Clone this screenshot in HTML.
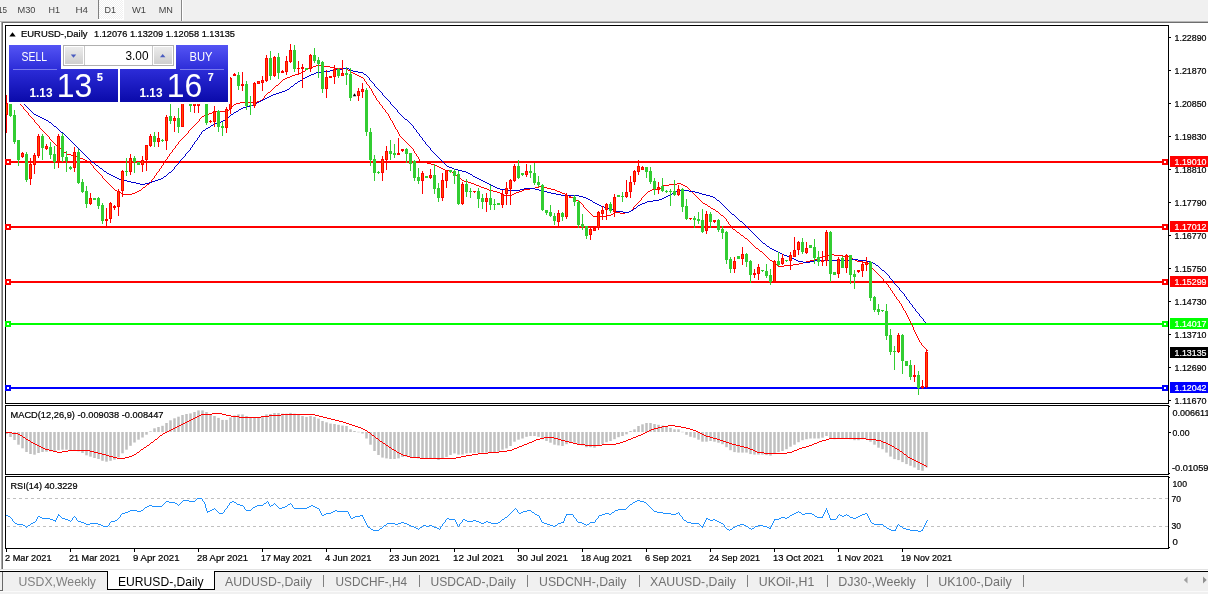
<!DOCTYPE html><html><head><meta charset="utf-8"><title>EURUSD-,Daily</title>
<style>html,body{margin:0;padding:0;background:#f0f0f0;overflow:hidden}svg{display:block}text{font-family:"Liberation Sans", sans-serif;stroke-width:0.22px;paint-order:stroke fill}</style></head><body>
<svg width="1208" height="594" viewBox="0 0 1208 594">
<defs><linearGradient id="gs" x1="0" y1="0" x2="0" y2="1"><stop offset="0" stop-color="#5454f4"/><stop offset="1" stop-color="#2c2cd8"/></linearGradient><linearGradient id="gp" x1="0" y1="0" x2="0" y2="1"><stop offset="0" stop-color="#2c2cd8"/><stop offset="1" stop-color="#0a0aaa"/></linearGradient><linearGradient id="gb" x1="0" y1="0" x2="0" y2="1"><stop offset="0" stop-color="#ececec"/><stop offset="1" stop-color="#cfcfcf"/></linearGradient><pattern id="dith" width="2" height="2" patternUnits="userSpaceOnUse"><rect width="2" height="2" fill="#f0f0f0"/><rect width="1" height="1" fill="#fff"/><rect x="1" y="1" width="1" height="1" fill="#fff"/></pattern></defs>
<g shape-rendering="crispEdges">
<rect x="0" y="0" width="1208" height="594" fill="#f0f0f0"/>
<rect x="99" y="0" width="24" height="19" fill="url(#dith)"/>
<rect x="98" y="0" width="1" height="19" fill="#808080"/>
<rect x="98" y="19" width="26" height="1" fill="#fff"/>
<rect x="123" y="0" width="1" height="19" fill="#fff"/>
<rect x="181" y="0" width="1" height="21" fill="#888"/>
<rect x="182" y="0" width="1" height="21" fill="#fff"/>
<rect x="0" y="21" width="1208" height="1" fill="#b8b8b8"/>
<rect x="0" y="22" width="1208" height="1" fill="#6e6e6e"/>
<rect x="0" y="22" width="1" height="547" fill="#fcfcfc"/>
<rect x="1" y="22" width="1" height="547" fill="#a8a8a8"/>
<rect x="2" y="22" width="1" height="547" fill="#6e6e6e"/>
<rect x="3" y="23" width="1205" height="546" fill="#fff"/>
<rect x="0" y="569" width="1208" height="1" fill="#e3e3e3"/>
<rect x="0" y="570" width="1208" height="1" fill="#fff"/>
<rect x="5" y="25" width="1164" height="1" fill="#000"/>
<rect x="5" y="403" width="1164" height="1" fill="#000"/>
<rect x="5" y="25" width="1" height="379" fill="#000"/>
<rect x="1168" y="25" width="1" height="379" fill="#000"/>
<rect x="5" y="405" width="1164" height="1" fill="#000"/>
<rect x="5" y="474" width="1164" height="1" fill="#000"/>
<rect x="5" y="405" width="1" height="70" fill="#000"/>
<rect x="1168" y="405" width="1" height="70" fill="#000"/>
<rect x="5" y="476" width="1164" height="1" fill="#000"/>
<rect x="5" y="548" width="1164" height="1" fill="#000"/>
<rect x="5" y="476" width="1" height="73" fill="#000"/>
<rect x="1168" y="476" width="1" height="73" fill="#000"/>
</g>
<defs><clipPath id="cm"><rect x="6" y="26" width="1162" height="377"/></clipPath><clipPath id="c2"><rect x="6" y="406" width="1162" height="68"/></clipPath><clipPath id="c3"><rect x="6" y="477" width="1162" height="71"/></clipPath></defs>
<g clip-path="url(#cm)">
<g shape-rendering="crispEdges">
<rect x="6" y="161" width="1162" height="2" fill="#ff0000"/>
<rect x="6" y="226" width="1162" height="2" fill="#ff0000"/>
<rect x="6" y="281" width="1162" height="2" fill="#ff0000"/>
<rect x="6" y="323" width="1162" height="2" fill="#00ff00"/>
<rect x="6" y="387" width="1162" height="2" fill="#0000ff"/>
</g>
<path d="M20 104h1v1h-1zM21 105h1v1h-1zM22 106h1v1h-1zM23 107h1v2h-1zM24 109h1v1h-1zM25 110h1v1h-1zM26 111h1v1h-1zM27 112h1v1h-1zM28 113h1v2h-1zM29 115h1v1h-1zM30 116h1v1h-1zM31 117h1v1h-1zM32 118h1v1h-1zM33 119h1v1h-1zM34 120h1v2h-1zM35 122h1v1h-1zM36 123h1v1h-1zM37 124h1v1h-1zM38 125h1v1h-1zM39 126h1v2h-1zM40 128h1v1h-1zM41 129h1v1h-1zM42 130h1v1h-1zM43 131h1v1h-1zM44 132h1v1h-1zM45 133h1v1h-1zM46 134h1v1h-1zM47 135h1v1h-1zM48 136h1v1h-1zM49 137h1v2h-1zM50 139h1v1h-1zM51 140h1v1h-1zM52 141h1v1h-1zM53 142h1v1h-1zM54 143h1v1h-1zM55 144h1v1h-1zM56 145h1v1h-1zM57 146h1v1h-1zM58 147h2v1h-2zM60 148h1v1h-1zM61 149h1v1h-1zM62 150h1v1h-1zM63 151h1v1h-1zM64 152h2v1h-2zM66 153h1v1h-1zM67 154h4v1h-4zM71 155h5v1h-5zM76 156h2v1h-2zM78 157h2v1h-2zM80 158h3v1h-3zM83 159h2v1h-2zM85 160h2v1h-2zM87 161h2v1h-2zM89 162h1v1h-1zM90 163h1v1h-1zM91 164h1v1h-1zM92 165h1v1h-1zM93 166h1v2h-1zM94 168h1v1h-1zM95 169h1v1h-1zM96 170h1v1h-1zM97 171h1v1h-1zM98 172h1v1h-1zM99 173h1v1h-1zM100 174h1v1h-1zM101 175h1v1h-1zM102 176h1v2h-1zM103 178h1v1h-1zM104 179h1v1h-1zM105 180h1v1h-1zM106 181h1v1h-1zM107 182h1v1h-1zM108 183h1v1h-1zM109 184h1v1h-1zM110 185h1v1h-1zM111 186h1v1h-1zM112 187h1v1h-1zM113 188h1v1h-1zM114 189h1v1h-1zM115 190h2v1h-2zM117 191h2v1h-2zM119 192h2v1h-2zM121 193h2v1h-2zM123 194h9v1h-9zM132 193h3v1h-3zM135 192h2v1h-2zM137 191h2v1h-2zM139 190h2v1h-2zM141 189h1v1h-1zM142 188h1v1h-1zM143 187h2v1h-2zM145 186h1v1h-1zM146 185h1v1h-1zM147 184h2v1h-2zM149 183h1v1h-1zM150 182h1v1h-1zM151 180h1v2h-1zM152 179h1v1h-1zM153 178h1v1h-1zM154 176h1v2h-1zM155 175h1v1h-1zM156 173h1v2h-1zM157 172h1v1h-1zM158 171h1v1h-1zM159 169h1v2h-1zM160 168h1v1h-1zM161 166h1v2h-1zM162 165h1v1h-1zM163 163h1v2h-1zM164 162h1v1h-1zM165 160h1v2h-1zM166 159h1v1h-1zM167 157h1v2h-1zM168 156h1v1h-1zM169 154h1v2h-1zM170 153h1v1h-1zM171 152h1v1h-1zM172 150h1v2h-1zM173 149h1v1h-1zM174 148h1v1h-1zM175 146h1v2h-1zM176 145h1v1h-1zM177 144h1v1h-1zM178 142h1v2h-1zM179 141h1v1h-1zM180 140h1v1h-1zM181 139h1v1h-1zM182 138h1v1h-1zM183 137h1v1h-1zM184 136h1v1h-1zM185 135h1v1h-1zM186 134h1v1h-1zM187 133h1v1h-1zM188 131h1v2h-1zM189 130h1v1h-1zM190 129h1v1h-1zM191 128h1v1h-1zM192 127h1v1h-1zM193 126h1v1h-1zM194 125h1v1h-1zM195 124h1v1h-1zM196 123h1v1h-1zM197 122h1v1h-1zM198 121h1v1h-1zM199 119h1v2h-1zM200 118h1v1h-1zM201 117h1v1h-1zM202 116h2v1h-2zM204 115h3v1h-3zM207 114h2v1h-2zM209 113h3v1h-3zM212 112h2v1h-2zM214 111h13v1h-13zM227 110h2v1h-2zM229 109h1v1h-1zM230 108h1v1h-1zM231 107h1v1h-1zM232 106h1v1h-1zM233 105h1v1h-1zM234 104h2v1h-2zM236 103h4v1h-4zM240 102h17v1h-17zM257 101h3v1h-3zM260 100h2v1h-2zM262 99h1v1h-1zM263 98h1v1h-1zM264 96h1v2h-1zM265 95h1v1h-1zM266 94h1v1h-1zM267 93h1v1h-1zM268 92h2v1h-2zM270 91h1v1h-1zM271 90h1v1h-1zM272 89h1v1h-1zM273 88h1v1h-1zM274 87h1v1h-1zM275 86h1v1h-1zM276 85h2v1h-2zM278 84h1v1h-1zM279 83h1v1h-1zM280 82h1v1h-1zM281 81h1v1h-1zM282 80h1v1h-1zM283 79h2v1h-2zM285 78h2v1h-2zM287 77h3v1h-3zM290 76h2v1h-2zM292 75h3v1h-3zM295 74h4v1h-4zM299 73h2v1h-2zM301 72h2v1h-2zM303 71h2v1h-2zM305 70h1v1h-1zM306 69h2v1h-2zM308 68h2v1h-2zM310 67h3v1h-3zM313 66h3v1h-3zM316 65h7v1h-7zM323 66h7v1h-7zM330 67h4v1h-4zM334 68h12v1h-12zM346 69h2v1h-2zM348 70h2v1h-2zM350 71h1v1h-1zM351 72h2v1h-2zM353 73h2v1h-2zM355 74h2v1h-2zM357 75h2v1h-2zM359 76h2v1h-2zM361 77h2v1h-2zM363 78h1v1h-1zM364 79h1v2h-1zM365 81h1v1h-1zM366 82h1v2h-1zM367 84h1v1h-1zM368 85h1v1h-1zM369 86h1v2h-1zM370 88h1v1h-1zM371 89h1v2h-1zM372 91h1v2h-1zM373 93h1v2h-1zM374 95h1v1h-1zM375 96h1v2h-1zM376 98h1v2h-1zM377 100h1v1h-1zM378 101h1v1h-1zM379 102h1v2h-1zM380 104h1v1h-1zM381 105h1v1h-1zM382 106h1v2h-1zM383 108h1v1h-1zM384 109h1v1h-1zM385 110h1v2h-1zM386 112h1v1h-1zM387 113h1v1h-1zM388 114h1v2h-1zM389 116h1v2h-1zM390 118h1v2h-1zM391 120h1v1h-1zM392 121h1v2h-1zM393 123h1v2h-1zM394 125h1v2h-1zM395 127h1v2h-1zM396 129h1v1h-1zM397 130h1v2h-1zM398 132h1v2h-1zM399 134h1v2h-1zM400 136h1v1h-1zM401 137h1v1h-1zM402 138h1v1h-1zM403 139h1v1h-1zM404 140h1v1h-1zM405 141h1v1h-1zM406 142h1v1h-1zM407 143h1v1h-1zM408 144h1v1h-1zM409 145h1v1h-1zM410 146h1v1h-1zM411 147h1v1h-1zM412 148h1v1h-1zM413 149h1v2h-1zM414 151h1v2h-1zM415 153h1v1h-1zM416 154h1v2h-1zM417 156h1v1h-1zM418 157h1v2h-1zM419 159h1v2h-1zM420 161h3v1h-3zM423 162h4v1h-4zM427 163h4v1h-4zM431 164h4v1h-4zM435 165h2v1h-2zM437 166h2v1h-2zM439 167h2v1h-2zM441 168h2v1h-2zM443 169h2v1h-2zM445 170h4v1h-4zM449 171h3v1h-3zM452 172h2v1h-2zM454 173h1v1h-1zM455 174h1v1h-1zM456 175h1v1h-1zM457 176h2v1h-2zM459 177h1v1h-1zM460 178h1v1h-1zM461 179h1v1h-1zM462 180h2v1h-2zM464 181h4v1h-4zM468 182h3v1h-3zM471 183h3v1h-3zM474 184h2v1h-2zM476 185h3v1h-3zM479 186h2v1h-2zM481 187h3v1h-3zM484 188h3v1h-3zM487 189h2v1h-2zM489 190h4v1h-4zM493 191h4v1h-4zM497 192h3v1h-3zM500 193h2v1h-2zM502 194h2v1h-2zM504 195h8v1h-8zM512 194h2v1h-2zM514 193h2v1h-2zM516 192h3v1h-3zM519 191h3v1h-3zM522 190h2v1h-2zM524 189h6v1h-6zM530 188h5v1h-5zM535 187h4v1h-4zM539 186h4v1h-4zM543 187h4v1h-4zM547 188h4v1h-4zM551 189h4v1h-4zM555 190h2v1h-2zM557 191h3v1h-3zM560 192h2v1h-2zM562 193h3v1h-3zM565 194h2v1h-2zM567 195h2v1h-2zM569 196h2v1h-2zM571 197h2v1h-2zM573 198h1v1h-1zM574 199h2v1h-2zM576 200h2v1h-2zM578 201h2v1h-2zM580 202h1v1h-1zM581 203h1v1h-1zM582 204h1v1h-1zM583 205h1v2h-1zM584 207h1v1h-1zM585 208h1v1h-1zM586 209h1v1h-1zM587 210h1v1h-1zM588 211h1v1h-1zM589 212h1v1h-1zM590 213h1v1h-1zM591 214h1v1h-1zM592 215h1v1h-1zM593 216h14v1h-14zM607 215h4v1h-4zM611 214h2v1h-2zM613 213h2v1h-2zM615 212h5v1h-5zM620 213h5v1h-5zM625 212h4v1h-4zM629 211h2v1h-2zM631 210h1v1h-1zM632 209h1v1h-1zM633 207h1v2h-1zM634 206h1v1h-1zM635 205h1v1h-1zM636 204h1v1h-1zM637 203h1v1h-1zM638 202h1v1h-1zM639 201h1v1h-1zM640 200h1v1h-1zM641 198h1v2h-1zM642 197h1v1h-1zM643 196h1v1h-1zM644 195h1v1h-1zM645 194h1v1h-1zM646 193h1v1h-1zM647 192h1v1h-1zM648 191h2v1h-2zM650 190h2v1h-2zM652 189h5v1h-5zM657 188h4v1h-4zM661 187h1v1h-1zM662 186h1v1h-1zM663 185h6v1h-6zM669 184h8v1h-8zM677 183h4v1h-4zM681 184h2v1h-2zM683 185h2v1h-2zM685 186h2v1h-2zM687 187h1v1h-1zM688 188h1v1h-1zM689 189h1v1h-1zM690 190h1v1h-1zM691 191h1v1h-1zM692 192h1v1h-1zM693 193h1v1h-1zM694 194h1v1h-1zM695 195h1v1h-1zM696 196h1v1h-1zM697 197h1v1h-1zM698 198h1v1h-1zM699 199h1v1h-1zM700 200h1v1h-1zM701 201h1v1h-1zM702 202h1v1h-1zM703 203h2v1h-2zM705 204h2v1h-2zM707 205h1v1h-1zM708 206h2v1h-2zM710 207h1v1h-1zM711 208h2v1h-2zM713 209h2v1h-2zM715 210h1v1h-1zM716 211h2v1h-2zM718 212h1v1h-1zM719 213h1v1h-1zM720 214h1v1h-1zM721 215h2v1h-2zM723 216h1v1h-1zM724 217h1v1h-1zM725 218h1v1h-1zM726 219h1v2h-1zM727 221h1v1h-1zM728 222h1v2h-1zM729 224h1v1h-1zM730 225h1v1h-1zM731 226h1v2h-1zM732 228h1v1h-1zM733 229h2v1h-2zM735 230h1v1h-1zM736 231h1v1h-1zM737 232h2v1h-2zM739 233h1v1h-1zM740 234h1v1h-1zM741 235h2v1h-2zM743 236h1v1h-1zM744 237h1v1h-1zM745 238h2v1h-2zM747 239h1v1h-1zM748 240h1v1h-1zM749 241h1v1h-1zM750 242h1v1h-1zM751 243h1v1h-1zM752 244h1v1h-1zM753 245h1v1h-1zM754 246h1v1h-1zM755 247h1v1h-1zM756 248h2v1h-2zM758 249h1v1h-1zM759 250h1v1h-1zM760 251h2v1h-2zM762 252h1v1h-1zM763 253h1v1h-1zM764 254h1v1h-1zM765 255h1v1h-1zM766 256h1v1h-1zM767 257h1v1h-1zM768 258h1v1h-1zM769 259h1v1h-1zM770 260h2v1h-2zM772 261h1v1h-1zM773 262h1v1h-1zM774 263h1v1h-1zM775 264h2v1h-2zM777 265h1v1h-1zM778 266h6v1h-6zM784 265h9v1h-9zM793 264h6v1h-6zM799 263h4v1h-4zM803 262h3v1h-3zM806 261h4v1h-4zM810 260h4v1h-4zM814 259h3v1h-3zM817 258h3v1h-3zM820 257h2v1h-2zM822 256h3v1h-3zM825 255h4v1h-4zM829 254h5v1h-5zM834 255h9v1h-9zM843 256h6v1h-6zM849 257h2v1h-2zM851 258h2v1h-2zM853 259h2v1h-2zM855 260h2v1h-2zM857 261h6v1h-6zM863 262h5v1h-5zM868 263h1v1h-1zM869 264h1v1h-1zM870 265h1v2h-1zM871 267h1v1h-1zM872 268h1v1h-1zM873 269h1v1h-1zM874 270h1v1h-1zM875 271h1v1h-1zM876 272h1v1h-1zM877 273h1v1h-1zM878 274h1v1h-1zM879 275h1v1h-1zM880 276h1v1h-1zM881 277h1v1h-1zM882 278h1v1h-1zM883 279h1v2h-1zM884 281h1v1h-1zM885 282h1v1h-1zM886 283h1v1h-1zM887 284h1v1h-1zM888 285h1v2h-1zM889 287h1v1h-1zM890 288h1v2h-1zM891 290h1v1h-1zM892 291h1v2h-1zM893 293h1v1h-1zM894 294h1v2h-1zM895 296h1v1h-1zM896 297h1v2h-1zM897 299h1v1h-1zM898 300h1v1h-1zM899 301h1v2h-1zM900 303h1v1h-1zM901 304h1v2h-1zM902 306h1v2h-1zM903 308h1v2h-1zM904 310h1v1h-1zM905 311h1v2h-1zM906 313h1v2h-1zM907 315h1v2h-1zM908 317h1v2h-1zM909 319h1v2h-1zM910 321h1v2h-1zM911 323h1v2h-1zM912 325h1v2h-1zM913 327h1v3h-1zM914 330h1v2h-1zM915 332h1v2h-1zM916 334h1v2h-1zM917 336h1v2h-1zM918 338h1v2h-1zM919 340h1v2h-1zM920 342h1v1h-1zM921 343h1v2h-1zM922 345h1v1h-1zM923 346h1v1h-1zM924 347h1v1h-1zM925 348h1v1h-1zM926 349h1v1h-1zM927 350h1v1h-1z" fill="#ff0000" shape-rendering="crispEdges"/>
<path d="M24 104h1v1h-1zM25 105h1v1h-1zM26 106h1v1h-1zM27 107h1v1h-1zM28 108h1v1h-1zM29 109h1v1h-1zM30 110h1v1h-1zM31 111h1v1h-1zM32 112h1v1h-1zM33 113h1v1h-1zM34 114h2v1h-2zM36 115h2v1h-2zM38 116h2v1h-2zM40 117h2v1h-2zM42 118h2v1h-2zM44 119h2v1h-2zM46 120h2v1h-2zM48 121h1v1h-1zM49 122h2v1h-2zM51 123h1v1h-1zM52 124h1v1h-1zM53 125h1v1h-1zM54 126h2v1h-2zM56 127h1v1h-1zM57 128h1v1h-1zM58 129h1v1h-1zM59 130h1v1h-1zM60 131h1v1h-1zM61 132h2v1h-2zM63 133h1v1h-1zM64 134h1v1h-1zM65 135h1v1h-1zM66 136h1v1h-1zM67 137h1v1h-1zM68 138h1v1h-1zM69 139h1v1h-1zM70 140h1v1h-1zM71 141h1v1h-1zM72 142h1v1h-1zM73 143h1v1h-1zM74 144h1v1h-1zM75 145h1v1h-1zM76 146h1v1h-1zM77 147h1v1h-1zM78 148h1v1h-1zM79 149h1v1h-1zM80 150h1v1h-1zM81 151h1v1h-1zM82 152h1v1h-1zM83 153h1v1h-1zM84 154h1v1h-1zM85 155h1v1h-1zM86 156h1v1h-1zM87 157h1v1h-1zM88 158h1v1h-1zM89 159h1v1h-1zM90 160h1v1h-1zM91 161h1v1h-1zM92 162h2v1h-2zM94 163h1v1h-1zM95 164h1v1h-1zM96 165h2v1h-2zM98 166h1v1h-1zM99 167h1v1h-1zM100 168h2v1h-2zM102 169h1v1h-1zM103 170h1v1h-1zM104 171h2v1h-2zM106 172h1v1h-1zM107 173h2v1h-2zM109 174h2v1h-2zM111 175h2v1h-2zM113 176h2v1h-2zM115 177h2v1h-2zM117 178h2v1h-2zM119 179h4v1h-4zM123 180h4v1h-4zM127 181h4v1h-4zM131 182h5v1h-5zM136 183h4v1h-4zM140 184h5v1h-5zM145 183h4v1h-4zM149 182h3v1h-3zM152 181h3v1h-3zM155 180h3v1h-3zM158 179h3v1h-3zM161 178h2v1h-2zM163 177h1v1h-1zM164 176h2v1h-2zM166 175h1v1h-1zM167 174h1v1h-1zM168 173h1v1h-1zM169 172h2v1h-2zM171 171h1v1h-1zM172 170h1v1h-1zM173 169h1v1h-1zM174 167h1v2h-1zM175 166h1v1h-1zM176 165h1v1h-1zM177 164h1v1h-1zM178 163h1v1h-1zM179 161h1v2h-1zM180 160h1v1h-1zM181 159h1v1h-1zM182 158h1v1h-1zM183 157h1v1h-1zM184 156h1v1h-1zM185 154h1v2h-1zM186 153h1v1h-1zM187 152h1v1h-1zM188 151h1v1h-1zM189 150h1v1h-1zM190 148h1v2h-1zM191 147h1v1h-1zM192 145h1v2h-1zM193 144h1v1h-1zM194 142h1v2h-1zM195 141h1v1h-1zM196 140h1v1h-1zM197 138h1v2h-1zM198 137h1v1h-1zM199 135h1v2h-1zM200 134h1v1h-1zM201 132h1v2h-1zM202 131h1v1h-1zM203 130h2v1h-2zM205 129h1v1h-1zM206 128h2v1h-2zM208 127h2v1h-2zM210 126h1v1h-1zM211 125h2v1h-2zM213 124h2v1h-2zM215 123h3v1h-3zM218 122h3v1h-3zM221 121h2v1h-2zM223 120h2v1h-2zM225 119h1v1h-1zM226 118h1v1h-1zM227 117h2v1h-2zM229 116h1v1h-1zM230 115h1v1h-1zM231 114h2v1h-2zM233 113h1v1h-1zM234 112h2v1h-2zM236 111h2v1h-2zM238 110h1v1h-1zM239 109h2v1h-2zM241 108h2v1h-2zM243 107h4v1h-4zM247 106h3v1h-3zM250 105h3v1h-3zM253 104h2v1h-2zM255 103h2v1h-2zM257 102h2v1h-2zM259 101h2v1h-2zM261 100h2v1h-2zM263 99h2v1h-2zM265 98h2v1h-2zM267 97h2v1h-2zM269 96h2v1h-2zM271 95h2v1h-2zM273 94h3v1h-3zM276 93h3v1h-3zM279 92h3v1h-3zM282 91h3v1h-3zM285 90h2v1h-2zM287 89h2v1h-2zM289 88h1v1h-1zM290 87h1v1h-1zM291 86h2v1h-2zM293 85h1v1h-1zM294 84h1v1h-1zM295 83h2v1h-2zM297 82h1v1h-1zM298 81h2v1h-2zM300 80h2v1h-2zM302 79h1v1h-1zM303 78h2v1h-2zM305 77h2v1h-2zM307 76h2v1h-2zM309 75h2v1h-2zM311 74h3v1h-3zM314 73h2v1h-2zM316 72h7v1h-7zM323 71h7v1h-7zM330 70h5v1h-5zM335 69h8v1h-8zM343 68h6v1h-6zM349 69h2v1h-2zM351 70h2v1h-2zM353 71h5v1h-5zM358 72h5v1h-5zM363 73h1v1h-1zM364 74h2v1h-2zM366 75h1v1h-1zM367 76h1v1h-1zM368 77h1v1h-1zM369 78h1v2h-1zM370 80h1v1h-1zM371 81h1v1h-1zM372 82h1v1h-1zM373 83h1v1h-1zM374 84h1v2h-1zM375 86h1v1h-1zM376 87h1v1h-1zM377 88h1v1h-1zM378 89h1v1h-1zM379 90h1v1h-1zM380 91h1v1h-1zM381 92h1v1h-1zM382 93h1v2h-1zM383 95h1v1h-1zM384 96h1v1h-1zM385 97h1v1h-1zM386 98h1v1h-1zM387 99h1v1h-1zM388 100h1v1h-1zM389 101h1v1h-1zM390 102h1v2h-1zM391 104h1v1h-1zM392 105h1v1h-1zM393 106h1v1h-1zM394 107h1v1h-1zM395 108h1v1h-1zM396 109h1v1h-1zM397 110h1v2h-1zM398 112h1v1h-1zM399 113h1v1h-1zM400 114h1v1h-1zM401 115h1v1h-1zM402 116h1v1h-1zM403 117h1v1h-1zM404 118h1v1h-1zM405 119h2v1h-2zM407 120h1v1h-1zM408 121h1v1h-1zM409 122h1v1h-1zM410 123h1v1h-1zM411 124h1v1h-1zM412 125h1v1h-1zM413 126h1v2h-1zM414 128h1v1h-1zM415 129h1v1h-1zM416 130h1v2h-1zM417 132h1v1h-1zM418 133h1v1h-1zM419 134h1v2h-1zM420 136h1v1h-1zM421 137h1v1h-1zM422 138h1v2h-1zM423 140h1v1h-1zM424 141h1v1h-1zM425 142h1v2h-1zM426 144h1v1h-1zM427 145h1v1h-1zM428 146h1v1h-1zM429 147h1v1h-1zM430 148h1v2h-1zM431 150h1v1h-1zM432 151h1v1h-1zM433 152h1v1h-1zM434 153h1v1h-1zM435 154h1v1h-1zM436 155h1v1h-1zM437 156h1v1h-1zM438 157h1v1h-1zM439 158h1v1h-1zM440 159h1v1h-1zM441 160h1v1h-1zM442 161h1v1h-1zM443 162h1v1h-1zM444 163h1v1h-1zM445 164h1v1h-1zM446 165h1v1h-1zM447 166h2v1h-2zM449 167h3v1h-3zM452 168h2v1h-2zM454 169h4v1h-4zM458 170h4v1h-4zM462 171h4v1h-4zM466 172h2v1h-2zM468 173h2v1h-2zM470 174h2v1h-2zM472 175h1v1h-1zM473 176h2v1h-2zM475 177h2v1h-2zM477 178h2v1h-2zM479 179h2v1h-2zM481 180h2v1h-2zM483 181h2v1h-2zM485 182h2v1h-2zM487 183h2v1h-2zM489 184h2v1h-2zM491 185h2v1h-2zM493 186h2v1h-2zM495 187h2v1h-2zM497 188h3v1h-3zM500 189h5v1h-5zM505 190h15v1h-15zM520 189h4v1h-4zM524 188h11v1h-11zM535 189h4v1h-4zM539 190h4v1h-4zM543 191h4v1h-4zM547 192h4v1h-4zM551 193h5v1h-5zM556 194h5v1h-5zM561 195h18v1h-18zM579 196h4v1h-4zM583 197h3v1h-3zM586 198h2v1h-2zM588 199h2v1h-2zM590 200h2v1h-2zM592 201h1v1h-1zM593 202h2v1h-2zM595 203h2v1h-2zM597 204h2v1h-2zM599 205h2v1h-2zM601 206h3v1h-3zM604 207h2v1h-2zM606 208h3v1h-3zM609 209h4v1h-4zM613 210h3v1h-3zM616 211h7v1h-7zM623 212h6v1h-6zM629 211h2v1h-2zM631 210h2v1h-2zM633 209h1v1h-1zM634 208h2v1h-2zM636 207h1v1h-1zM637 206h1v1h-1zM638 205h2v1h-2zM640 204h2v1h-2zM642 203h3v1h-3zM645 202h2v1h-2zM647 201h6v1h-6zM653 200h6v1h-6zM659 199h3v1h-3zM662 198h2v1h-2zM664 197h2v1h-2zM666 196h2v1h-2zM668 195h2v1h-2zM670 194h2v1h-2zM672 193h1v1h-1zM673 192h2v1h-2zM675 191h5v1h-5zM680 190h9v1h-9zM689 191h6v1h-6zM695 192h4v1h-4zM699 193h3v1h-3zM702 194h4v1h-4zM706 195h4v1h-4zM710 196h3v1h-3zM713 197h2v1h-2zM715 198h1v1h-1zM716 199h1v1h-1zM717 200h2v1h-2zM719 201h1v1h-1zM720 202h1v1h-1zM721 203h1v1h-1zM722 204h1v1h-1zM723 205h1v1h-1zM724 206h1v1h-1zM725 207h1v1h-1zM726 208h1v1h-1zM727 209h1v1h-1zM728 210h1v1h-1zM729 211h1v1h-1zM730 212h1v1h-1zM731 213h1v1h-1zM732 214h2v1h-2zM734 215h1v1h-1zM735 216h1v1h-1zM736 217h1v1h-1zM737 218h1v1h-1zM738 219h1v1h-1zM739 220h1v1h-1zM740 221h2v1h-2zM742 222h1v1h-1zM743 223h1v1h-1zM744 224h1v1h-1zM745 225h1v1h-1zM746 226h1v1h-1zM747 227h1v1h-1zM748 228h1v1h-1zM749 229h1v1h-1zM750 230h1v1h-1zM751 231h1v1h-1zM752 232h1v1h-1zM753 233h1v1h-1zM754 234h1v1h-1zM755 235h1v1h-1zM756 236h1v1h-1zM757 237h1v1h-1zM758 238h1v1h-1zM759 239h1v1h-1zM760 240h1v1h-1zM761 241h1v1h-1zM762 242h1v1h-1zM763 243h2v1h-2zM765 244h1v1h-1zM766 245h1v1h-1zM767 246h2v1h-2zM769 247h1v1h-1zM770 248h2v1h-2zM772 249h2v1h-2zM774 250h2v1h-2zM776 251h2v1h-2zM778 252h2v1h-2zM780 253h2v1h-2zM782 254h2v1h-2zM784 255h3v1h-3zM787 256h2v1h-2zM789 257h3v1h-3zM792 258h2v1h-2zM794 259h2v1h-2zM796 260h2v1h-2zM798 261h5v1h-5zM803 262h7v1h-7zM810 261h4v1h-4zM814 260h35v1h-35zM849 259h9v1h-9zM858 260h9v1h-9zM867 261h4v1h-4zM871 262h2v1h-2zM873 263h2v1h-2zM875 264h1v1h-1zM876 265h2v1h-2zM878 266h1v1h-1zM879 267h1v1h-1zM880 268h1v1h-1zM881 269h1v1h-1zM882 270h2v1h-2zM884 271h1v1h-1zM885 272h1v1h-1zM886 273h1v1h-1zM887 274h1v1h-1zM888 275h1v1h-1zM889 276h1v2h-1zM890 278h1v1h-1zM891 279h1v1h-1zM892 280h1v1h-1zM893 281h1v2h-1zM894 283h1v1h-1zM895 284h1v1h-1zM896 285h1v1h-1zM897 286h1v1h-1zM898 287h1v1h-1zM899 288h1v2h-1zM900 290h1v1h-1zM901 291h1v1h-1zM902 292h1v1h-1zM903 293h1v1h-1zM904 294h1v2h-1zM905 296h1v1h-1zM906 297h1v2h-1zM907 299h1v1h-1zM908 300h1v1h-1zM909 301h1v2h-1zM910 303h1v1h-1zM911 304h1v1h-1zM912 305h1v2h-1zM913 307h1v1h-1zM914 308h1v1h-1zM915 309h1v2h-1zM916 311h1v1h-1zM917 312h1v1h-1zM918 313h1v1h-1zM919 314h1v2h-1zM920 316h1v1h-1zM921 317h1v1h-1zM922 318h1v1h-1zM923 319h1v2h-1zM924 321h1v1h-1zM925 322h1v1h-1z" fill="#0000cd" shape-rendering="crispEdges"/>
<g shape-rendering="crispEdges">
<rect x="6" y="95" width="1" height="38" fill="#ff0000"/>
<rect x="5" y="103" width="3" height="12" fill="#ff0000"/>
<rect x="6" y="104" width="1" height="10" fill="#ff4a00"/>
<rect x="10" y="100" width="1" height="17" fill="#32cd32"/>
<rect x="9" y="100" width="3" height="16" fill="#32cd32"/>
<rect x="14" y="110" width="1" height="34" fill="#32cd32"/>
<rect x="13" y="115" width="3" height="27" fill="#32cd32"/>
<rect x="18" y="140" width="1" height="26" fill="#32cd32"/>
<rect x="17" y="140" width="3" height="20" fill="#32cd32"/>
<rect x="22" y="152" width="1" height="6" fill="#ff0000"/>
<rect x="21" y="153" width="3" height="4" fill="#ff0000"/>
<rect x="22" y="154" width="1" height="2" fill="#ff4a00"/>
<rect x="26" y="152" width="1" height="30" fill="#32cd32"/>
<rect x="25" y="154" width="3" height="26" fill="#32cd32"/>
<rect x="30" y="158" width="1" height="27" fill="#ff0000"/>
<rect x="29" y="164" width="3" height="15" fill="#ff0000"/>
<rect x="30" y="165" width="1" height="13" fill="#ff4a00"/>
<rect x="34" y="153" width="1" height="21" fill="#ff0000"/>
<rect x="33" y="155" width="3" height="10" fill="#ff0000"/>
<rect x="34" y="156" width="1" height="8" fill="#ff4a00"/>
<rect x="38" y="134" width="1" height="24" fill="#ff0000"/>
<rect x="37" y="136" width="3" height="20" fill="#ff0000"/>
<rect x="38" y="137" width="1" height="18" fill="#ff4a00"/>
<rect x="42" y="134" width="1" height="26" fill="#32cd32"/>
<rect x="41" y="136" width="3" height="12" fill="#32cd32"/>
<rect x="46" y="144" width="1" height="6" fill="#ff0000"/>
<rect x="45" y="146" width="3" height="3" fill="#ff0000"/>
<rect x="46" y="147" width="1" height="1" fill="#ff4a00"/>
<rect x="50" y="142" width="1" height="17" fill="#32cd32"/>
<rect x="49" y="147" width="3" height="8" fill="#32cd32"/>
<rect x="54" y="146" width="1" height="23" fill="#32cd32"/>
<rect x="53" y="154" width="3" height="8" fill="#32cd32"/>
<rect x="58" y="134" width="1" height="34" fill="#ff0000"/>
<rect x="57" y="136" width="3" height="26" fill="#ff0000"/>
<rect x="58" y="137" width="1" height="24" fill="#ff4a00"/>
<rect x="62" y="133" width="1" height="29" fill="#32cd32"/>
<rect x="61" y="136" width="3" height="21" fill="#32cd32"/>
<rect x="66" y="151" width="1" height="21" fill="#32cd32"/>
<rect x="65" y="157" width="3" height="4" fill="#32cd32"/>
<rect x="70" y="166" width="1" height="4" fill="#32cd32"/>
<rect x="69" y="167" width="3" height="2" fill="#32cd32"/>
<rect x="74" y="147" width="1" height="25" fill="#ff0000"/>
<rect x="73" y="152" width="3" height="16" fill="#ff0000"/>
<rect x="74" y="153" width="1" height="14" fill="#ff4a00"/>
<rect x="78" y="149" width="1" height="35" fill="#32cd32"/>
<rect x="77" y="152" width="3" height="31" fill="#32cd32"/>
<rect x="82" y="179" width="1" height="14" fill="#32cd32"/>
<rect x="81" y="182" width="3" height="10" fill="#32cd32"/>
<rect x="86" y="186" width="1" height="22" fill="#32cd32"/>
<rect x="85" y="191" width="3" height="13" fill="#32cd32"/>
<rect x="90" y="193" width="1" height="12" fill="#ff0000"/>
<rect x="89" y="198" width="3" height="6" fill="#ff0000"/>
<rect x="90" y="199" width="1" height="4" fill="#ff4a00"/>
<rect x="94" y="198" width="1" height="2" fill="#32cd32"/>
<rect x="93" y="198" width="3" height="2" fill="#32cd32"/>
<rect x="98" y="197" width="1" height="12" fill="#32cd32"/>
<rect x="97" y="198" width="3" height="8" fill="#32cd32"/>
<rect x="102" y="203" width="1" height="21" fill="#32cd32"/>
<rect x="101" y="205" width="3" height="16" fill="#32cd32"/>
<rect x="106" y="208" width="1" height="19" fill="#ff0000"/>
<rect x="105" y="219" width="3" height="2" fill="#ff0000"/>
<rect x="110" y="202" width="1" height="21" fill="#ff0000"/>
<rect x="109" y="203" width="3" height="16" fill="#ff0000"/>
<rect x="110" y="204" width="1" height="14" fill="#ff4a00"/>
<rect x="114" y="205" width="1" height="5" fill="#ff0000"/>
<rect x="113" y="206" width="3" height="2" fill="#ff0000"/>
<rect x="118" y="189" width="1" height="27" fill="#ff0000"/>
<rect x="117" y="191" width="3" height="16" fill="#ff0000"/>
<rect x="118" y="192" width="1" height="14" fill="#ff4a00"/>
<rect x="122" y="170" width="1" height="27" fill="#ff0000"/>
<rect x="121" y="171" width="3" height="20" fill="#ff0000"/>
<rect x="122" y="172" width="1" height="18" fill="#ff4a00"/>
<rect x="126" y="158" width="1" height="18" fill="#32cd32"/>
<rect x="125" y="171" width="3" height="1" fill="#32cd32"/>
<rect x="130" y="154" width="1" height="21" fill="#ff0000"/>
<rect x="129" y="158" width="3" height="14" fill="#ff0000"/>
<rect x="130" y="159" width="1" height="12" fill="#ff4a00"/>
<rect x="134" y="156" width="1" height="17" fill="#32cd32"/>
<rect x="133" y="158" width="3" height="4" fill="#32cd32"/>
<rect x="138" y="162" width="1" height="3" fill="#32cd32"/>
<rect x="137" y="162" width="3" height="3" fill="#32cd32"/>
<rect x="142" y="156" width="1" height="16" fill="#ff0000"/>
<rect x="141" y="160" width="3" height="5" fill="#ff0000"/>
<rect x="142" y="161" width="1" height="3" fill="#ff4a00"/>
<rect x="146" y="145" width="1" height="26" fill="#ff0000"/>
<rect x="145" y="145" width="3" height="15" fill="#ff0000"/>
<rect x="146" y="146" width="1" height="13" fill="#ff4a00"/>
<rect x="150" y="134" width="1" height="13" fill="#ff0000"/>
<rect x="149" y="136" width="3" height="10" fill="#ff0000"/>
<rect x="150" y="137" width="1" height="8" fill="#ff4a00"/>
<rect x="154" y="132" width="1" height="15" fill="#32cd32"/>
<rect x="153" y="136" width="3" height="6" fill="#32cd32"/>
<rect x="158" y="132" width="1" height="15" fill="#ff0000"/>
<rect x="157" y="138" width="3" height="4" fill="#ff0000"/>
<rect x="158" y="139" width="1" height="2" fill="#ff4a00"/>
<rect x="162" y="139" width="1" height="3" fill="#32cd32"/>
<rect x="161" y="140" width="3" height="1" fill="#32cd32"/>
<rect x="166" y="115" width="1" height="35" fill="#ff0000"/>
<rect x="165" y="117" width="3" height="24" fill="#ff0000"/>
<rect x="166" y="118" width="1" height="22" fill="#ff4a00"/>
<rect x="170" y="104" width="1" height="20" fill="#32cd32"/>
<rect x="169" y="116" width="3" height="5" fill="#32cd32"/>
<rect x="174" y="116" width="1" height="16" fill="#ff0000"/>
<rect x="173" y="118" width="3" height="3" fill="#ff0000"/>
<rect x="174" y="119" width="1" height="1" fill="#ff4a00"/>
<rect x="178" y="108" width="1" height="25" fill="#32cd32"/>
<rect x="177" y="118" width="3" height="9" fill="#32cd32"/>
<rect x="182" y="100" width="1" height="27" fill="#ff0000"/>
<rect x="181" y="100" width="3" height="27" fill="#ff0000"/>
<rect x="182" y="101" width="1" height="25" fill="#ff4a00"/>
<rect x="186" y="100" width="1" height="1" fill="#ff0000"/>
<rect x="185" y="100" width="3" height="1" fill="#ff0000"/>
<rect x="190" y="100" width="1" height="12" fill="#32cd32"/>
<rect x="189" y="100" width="3" height="6" fill="#32cd32"/>
<rect x="194" y="100" width="1" height="13" fill="#ff0000"/>
<rect x="193" y="100" width="3" height="6" fill="#ff0000"/>
<rect x="194" y="101" width="1" height="4" fill="#ff4a00"/>
<rect x="198" y="100" width="1" height="13" fill="#ff0000"/>
<rect x="197" y="100" width="3" height="6" fill="#ff0000"/>
<rect x="198" y="101" width="1" height="4" fill="#ff4a00"/>
<rect x="202" y="100" width="1" height="1" fill="#ff0000"/>
<rect x="201" y="100" width="3" height="1" fill="#ff0000"/>
<rect x="206" y="100" width="1" height="25" fill="#32cd32"/>
<rect x="205" y="100" width="3" height="23" fill="#32cd32"/>
<rect x="210" y="120" width="1" height="3" fill="#ff0000"/>
<rect x="209" y="121" width="3" height="1" fill="#ff0000"/>
<rect x="214" y="106" width="1" height="21" fill="#ff0000"/>
<rect x="213" y="111" width="3" height="11" fill="#ff0000"/>
<rect x="214" y="112" width="1" height="9" fill="#ff4a00"/>
<rect x="218" y="110" width="1" height="22" fill="#32cd32"/>
<rect x="217" y="111" width="3" height="16" fill="#32cd32"/>
<rect x="222" y="122" width="1" height="14" fill="#32cd32"/>
<rect x="221" y="126" width="3" height="2" fill="#32cd32"/>
<rect x="226" y="107" width="1" height="26" fill="#ff0000"/>
<rect x="225" y="109" width="3" height="19" fill="#ff0000"/>
<rect x="226" y="110" width="1" height="17" fill="#ff4a00"/>
<rect x="230" y="77" width="1" height="37" fill="#ff0000"/>
<rect x="229" y="78" width="3" height="31" fill="#ff0000"/>
<rect x="230" y="79" width="1" height="29" fill="#ff4a00"/>
<rect x="234" y="73" width="1" height="3" fill="#ff0000"/>
<rect x="233" y="74" width="3" height="2" fill="#ff0000"/>
<rect x="238" y="72" width="1" height="18" fill="#32cd32"/>
<rect x="237" y="75" width="3" height="11" fill="#32cd32"/>
<rect x="242" y="72" width="1" height="19" fill="#ff0000"/>
<rect x="241" y="84" width="3" height="2" fill="#ff0000"/>
<rect x="246" y="81" width="1" height="29" fill="#32cd32"/>
<rect x="245" y="84" width="3" height="22" fill="#32cd32"/>
<rect x="250" y="96" width="1" height="19" fill="#32cd32"/>
<rect x="249" y="105" width="3" height="1" fill="#32cd32"/>
<rect x="254" y="82" width="1" height="26" fill="#ff0000"/>
<rect x="253" y="83" width="3" height="23" fill="#ff0000"/>
<rect x="254" y="84" width="1" height="21" fill="#ff4a00"/>
<rect x="258" y="81" width="1" height="3" fill="#ff0000"/>
<rect x="257" y="81" width="3" height="3" fill="#ff0000"/>
<rect x="258" y="82" width="1" height="1" fill="#ff4a00"/>
<rect x="262" y="76" width="1" height="15" fill="#ff0000"/>
<rect x="261" y="80" width="3" height="3" fill="#ff0000"/>
<rect x="262" y="81" width="1" height="1" fill="#ff4a00"/>
<rect x="266" y="55" width="1" height="27" fill="#ff0000"/>
<rect x="265" y="58" width="3" height="23" fill="#ff0000"/>
<rect x="266" y="59" width="1" height="21" fill="#ff4a00"/>
<rect x="270" y="51" width="1" height="29" fill="#32cd32"/>
<rect x="269" y="58" width="3" height="18" fill="#32cd32"/>
<rect x="274" y="56" width="1" height="21" fill="#ff0000"/>
<rect x="273" y="57" width="3" height="19" fill="#ff0000"/>
<rect x="274" y="58" width="1" height="17" fill="#ff4a00"/>
<rect x="278" y="53" width="1" height="26" fill="#32cd32"/>
<rect x="277" y="57" width="3" height="16" fill="#32cd32"/>
<rect x="282" y="70" width="1" height="3" fill="#ff0000"/>
<rect x="281" y="71" width="3" height="2" fill="#ff0000"/>
<rect x="286" y="56" width="1" height="19" fill="#ff0000"/>
<rect x="285" y="61" width="3" height="11" fill="#ff0000"/>
<rect x="286" y="62" width="1" height="9" fill="#ff4a00"/>
<rect x="290" y="44" width="1" height="19" fill="#ff0000"/>
<rect x="289" y="50" width="3" height="12" fill="#ff0000"/>
<rect x="290" y="51" width="1" height="10" fill="#ff4a00"/>
<rect x="294" y="45" width="1" height="27" fill="#32cd32"/>
<rect x="293" y="50" width="3" height="19" fill="#32cd32"/>
<rect x="298" y="61" width="1" height="13" fill="#ff0000"/>
<rect x="297" y="68" width="3" height="1" fill="#ff0000"/>
<rect x="302" y="64" width="1" height="24" fill="#ff0000"/>
<rect x="301" y="67" width="3" height="2" fill="#ff0000"/>
<rect x="306" y="68" width="1" height="2" fill="#32cd32"/>
<rect x="305" y="68" width="3" height="2" fill="#32cd32"/>
<rect x="310" y="54" width="1" height="18" fill="#ff0000"/>
<rect x="309" y="55" width="3" height="14" fill="#ff0000"/>
<rect x="310" y="56" width="1" height="12" fill="#ff4a00"/>
<rect x="314" y="48" width="1" height="15" fill="#32cd32"/>
<rect x="313" y="55" width="3" height="6" fill="#32cd32"/>
<rect x="318" y="57" width="1" height="21" fill="#32cd32"/>
<rect x="317" y="60" width="3" height="4" fill="#32cd32"/>
<rect x="322" y="61" width="1" height="32" fill="#32cd32"/>
<rect x="321" y="62" width="3" height="27" fill="#32cd32"/>
<rect x="326" y="70" width="1" height="28" fill="#ff0000"/>
<rect x="325" y="77" width="3" height="12" fill="#ff0000"/>
<rect x="326" y="78" width="1" height="10" fill="#ff4a00"/>
<rect x="330" y="76" width="1" height="2" fill="#ff0000"/>
<rect x="329" y="76" width="3" height="2" fill="#ff0000"/>
<rect x="334" y="65" width="1" height="19" fill="#ff0000"/>
<rect x="333" y="69" width="3" height="8" fill="#ff0000"/>
<rect x="334" y="70" width="1" height="6" fill="#ff4a00"/>
<rect x="338" y="68" width="1" height="10" fill="#32cd32"/>
<rect x="337" y="69" width="3" height="7" fill="#32cd32"/>
<rect x="342" y="60" width="1" height="16" fill="#ff0000"/>
<rect x="341" y="73" width="3" height="3" fill="#ff0000"/>
<rect x="342" y="74" width="1" height="1" fill="#ff4a00"/>
<rect x="346" y="67" width="1" height="18" fill="#32cd32"/>
<rect x="345" y="73" width="3" height="2" fill="#32cd32"/>
<rect x="350" y="68" width="1" height="33" fill="#32cd32"/>
<rect x="349" y="74" width="3" height="24" fill="#32cd32"/>
<rect x="358" y="88" width="1" height="13" fill="#ff0000"/>
<rect x="357" y="91" width="3" height="5" fill="#ff0000"/>
<rect x="358" y="92" width="1" height="3" fill="#ff4a00"/>
<rect x="362" y="83" width="1" height="15" fill="#ff0000"/>
<rect x="361" y="89" width="3" height="3" fill="#ff0000"/>
<rect x="362" y="90" width="1" height="1" fill="#ff4a00"/>
<rect x="366" y="88" width="1" height="48" fill="#32cd32"/>
<rect x="365" y="90" width="3" height="42" fill="#32cd32"/>
<rect x="370" y="128" width="1" height="38" fill="#32cd32"/>
<rect x="369" y="132" width="3" height="28" fill="#32cd32"/>
<rect x="374" y="155" width="1" height="26" fill="#32cd32"/>
<rect x="373" y="159" width="3" height="14" fill="#32cd32"/>
<rect x="378" y="171" width="1" height="3" fill="#32cd32"/>
<rect x="377" y="172" width="3" height="1" fill="#32cd32"/>
<rect x="382" y="156" width="1" height="25" fill="#ff0000"/>
<rect x="381" y="159" width="3" height="14" fill="#ff0000"/>
<rect x="382" y="160" width="1" height="12" fill="#ff4a00"/>
<rect x="386" y="146" width="1" height="24" fill="#ff0000"/>
<rect x="385" y="151" width="3" height="9" fill="#ff0000"/>
<rect x="386" y="152" width="1" height="7" fill="#ff4a00"/>
<rect x="390" y="140" width="1" height="20" fill="#32cd32"/>
<rect x="389" y="151" width="3" height="3" fill="#32cd32"/>
<rect x="394" y="144" width="1" height="14" fill="#32cd32"/>
<rect x="393" y="153" width="3" height="2" fill="#32cd32"/>
<rect x="398" y="138" width="1" height="17" fill="#ff0000"/>
<rect x="397" y="153" width="3" height="2" fill="#ff0000"/>
<rect x="402" y="149" width="1" height="3" fill="#ff0000"/>
<rect x="401" y="149" width="3" height="2" fill="#ff0000"/>
<rect x="406" y="148" width="1" height="15" fill="#32cd32"/>
<rect x="405" y="149" width="3" height="5" fill="#32cd32"/>
<rect x="410" y="153" width="1" height="18" fill="#32cd32"/>
<rect x="409" y="153" width="3" height="11" fill="#32cd32"/>
<rect x="414" y="160" width="1" height="21" fill="#32cd32"/>
<rect x="413" y="161" width="3" height="17" fill="#32cd32"/>
<rect x="418" y="168" width="1" height="16" fill="#32cd32"/>
<rect x="417" y="177" width="3" height="4" fill="#32cd32"/>
<rect x="422" y="171" width="1" height="23" fill="#ff0000"/>
<rect x="421" y="173" width="3" height="8" fill="#ff0000"/>
<rect x="422" y="174" width="1" height="6" fill="#ff4a00"/>
<rect x="426" y="176" width="1" height="2" fill="#32cd32"/>
<rect x="425" y="176" width="3" height="2" fill="#32cd32"/>
<rect x="430" y="169" width="1" height="10" fill="#ff0000"/>
<rect x="429" y="175" width="3" height="3" fill="#ff0000"/>
<rect x="430" y="176" width="1" height="1" fill="#ff4a00"/>
<rect x="434" y="164" width="1" height="30" fill="#32cd32"/>
<rect x="433" y="175" width="3" height="14" fill="#32cd32"/>
<rect x="438" y="183" width="1" height="19" fill="#32cd32"/>
<rect x="437" y="188" width="3" height="10" fill="#32cd32"/>
<rect x="442" y="173" width="1" height="28" fill="#ff0000"/>
<rect x="441" y="180" width="3" height="18" fill="#ff0000"/>
<rect x="442" y="181" width="1" height="16" fill="#ff4a00"/>
<rect x="446" y="170" width="1" height="18" fill="#ff0000"/>
<rect x="445" y="170" width="3" height="11" fill="#ff0000"/>
<rect x="446" y="171" width="1" height="9" fill="#ff4a00"/>
<rect x="450" y="170" width="1" height="3" fill="#32cd32"/>
<rect x="449" y="170" width="3" height="2" fill="#32cd32"/>
<rect x="454" y="169" width="1" height="15" fill="#32cd32"/>
<rect x="453" y="171" width="3" height="5" fill="#32cd32"/>
<rect x="458" y="171" width="1" height="34" fill="#32cd32"/>
<rect x="457" y="174" width="3" height="30" fill="#32cd32"/>
<rect x="462" y="182" width="1" height="23" fill="#ff0000"/>
<rect x="461" y="184" width="3" height="20" fill="#ff0000"/>
<rect x="462" y="185" width="1" height="18" fill="#ff4a00"/>
<rect x="466" y="179" width="1" height="18" fill="#32cd32"/>
<rect x="465" y="184" width="3" height="8" fill="#32cd32"/>
<rect x="470" y="188" width="1" height="10" fill="#32cd32"/>
<rect x="469" y="191" width="3" height="1" fill="#32cd32"/>
<rect x="474" y="191" width="1" height="2" fill="#ff0000"/>
<rect x="473" y="191" width="3" height="1" fill="#ff0000"/>
<rect x="478" y="188" width="1" height="20" fill="#32cd32"/>
<rect x="477" y="191" width="3" height="8" fill="#32cd32"/>
<rect x="482" y="194" width="1" height="15" fill="#32cd32"/>
<rect x="481" y="198" width="3" height="4" fill="#32cd32"/>
<rect x="486" y="193" width="1" height="19" fill="#ff0000"/>
<rect x="485" y="198" width="3" height="4" fill="#ff0000"/>
<rect x="486" y="199" width="1" height="2" fill="#ff4a00"/>
<rect x="490" y="185" width="1" height="25" fill="#32cd32"/>
<rect x="489" y="198" width="3" height="7" fill="#32cd32"/>
<rect x="494" y="199" width="1" height="11" fill="#32cd32"/>
<rect x="493" y="204" width="3" height="1" fill="#32cd32"/>
<rect x="498" y="203" width="1" height="2" fill="#32cd32"/>
<rect x="497" y="203" width="3" height="2" fill="#32cd32"/>
<rect x="502" y="190" width="1" height="18" fill="#ff0000"/>
<rect x="501" y="194" width="3" height="11" fill="#ff0000"/>
<rect x="502" y="195" width="1" height="9" fill="#ff4a00"/>
<rect x="506" y="182" width="1" height="23" fill="#ff0000"/>
<rect x="505" y="188" width="3" height="6" fill="#ff0000"/>
<rect x="506" y="189" width="1" height="4" fill="#ff4a00"/>
<rect x="510" y="179" width="1" height="26" fill="#ff0000"/>
<rect x="509" y="180" width="3" height="9" fill="#ff0000"/>
<rect x="510" y="181" width="1" height="7" fill="#ff4a00"/>
<rect x="514" y="164" width="1" height="18" fill="#ff0000"/>
<rect x="513" y="166" width="3" height="15" fill="#ff0000"/>
<rect x="514" y="167" width="1" height="13" fill="#ff4a00"/>
<rect x="518" y="160" width="1" height="19" fill="#32cd32"/>
<rect x="517" y="166" width="3" height="12" fill="#32cd32"/>
<rect x="522" y="173" width="1" height="3" fill="#32cd32"/>
<rect x="521" y="173" width="3" height="2" fill="#32cd32"/>
<rect x="526" y="164" width="1" height="13" fill="#ff0000"/>
<rect x="525" y="171" width="3" height="4" fill="#ff0000"/>
<rect x="526" y="172" width="1" height="2" fill="#ff4a00"/>
<rect x="530" y="165" width="1" height="13" fill="#32cd32"/>
<rect x="529" y="171" width="3" height="2" fill="#32cd32"/>
<rect x="534" y="163" width="1" height="22" fill="#32cd32"/>
<rect x="533" y="173" width="3" height="10" fill="#32cd32"/>
<rect x="538" y="176" width="1" height="11" fill="#32cd32"/>
<rect x="537" y="182" width="3" height="3" fill="#32cd32"/>
<rect x="542" y="184" width="1" height="27" fill="#32cd32"/>
<rect x="541" y="185" width="3" height="25" fill="#32cd32"/>
<rect x="546" y="210" width="1" height="5" fill="#32cd32"/>
<rect x="545" y="210" width="3" height="3" fill="#32cd32"/>
<rect x="550" y="205" width="1" height="12" fill="#32cd32"/>
<rect x="549" y="212" width="3" height="4" fill="#32cd32"/>
<rect x="554" y="213" width="1" height="12" fill="#32cd32"/>
<rect x="553" y="216" width="3" height="5" fill="#32cd32"/>
<rect x="558" y="210" width="1" height="16" fill="#ff0000"/>
<rect x="557" y="213" width="3" height="9" fill="#ff0000"/>
<rect x="558" y="214" width="1" height="7" fill="#ff4a00"/>
<rect x="562" y="212" width="1" height="9" fill="#32cd32"/>
<rect x="561" y="213" width="3" height="4" fill="#32cd32"/>
<rect x="566" y="193" width="1" height="26" fill="#ff0000"/>
<rect x="565" y="195" width="3" height="22" fill="#ff0000"/>
<rect x="566" y="196" width="1" height="20" fill="#ff4a00"/>
<rect x="570" y="196" width="1" height="2" fill="#ff0000"/>
<rect x="569" y="197" width="3" height="1" fill="#ff0000"/>
<rect x="574" y="195" width="1" height="11" fill="#32cd32"/>
<rect x="573" y="197" width="3" height="5" fill="#32cd32"/>
<rect x="578" y="200" width="1" height="28" fill="#32cd32"/>
<rect x="577" y="202" width="3" height="23" fill="#32cd32"/>
<rect x="582" y="214" width="1" height="16" fill="#32cd32"/>
<rect x="581" y="224" width="3" height="3" fill="#32cd32"/>
<rect x="586" y="226" width="1" height="13" fill="#32cd32"/>
<rect x="585" y="226" width="3" height="10" fill="#32cd32"/>
<rect x="590" y="227" width="1" height="13" fill="#ff0000"/>
<rect x="589" y="229" width="3" height="6" fill="#ff0000"/>
<rect x="590" y="230" width="1" height="4" fill="#ff4a00"/>
<rect x="594" y="228" width="1" height="3" fill="#ff0000"/>
<rect x="593" y="228" width="3" height="3" fill="#ff0000"/>
<rect x="594" y="229" width="1" height="1" fill="#ff4a00"/>
<rect x="598" y="211" width="1" height="19" fill="#ff0000"/>
<rect x="597" y="212" width="3" height="16" fill="#ff0000"/>
<rect x="598" y="213" width="1" height="14" fill="#ff4a00"/>
<rect x="602" y="206" width="1" height="14" fill="#ff0000"/>
<rect x="601" y="210" width="3" height="4" fill="#ff0000"/>
<rect x="602" y="211" width="1" height="2" fill="#ff4a00"/>
<rect x="606" y="203" width="1" height="17" fill="#ff0000"/>
<rect x="605" y="204" width="3" height="6" fill="#ff0000"/>
<rect x="606" y="205" width="1" height="4" fill="#ff4a00"/>
<rect x="610" y="202" width="1" height="11" fill="#32cd32"/>
<rect x="609" y="204" width="3" height="7" fill="#32cd32"/>
<rect x="614" y="194" width="1" height="23" fill="#ff0000"/>
<rect x="613" y="197" width="3" height="15" fill="#ff0000"/>
<rect x="614" y="198" width="1" height="13" fill="#ff4a00"/>
<rect x="618" y="195" width="1" height="2" fill="#32cd32"/>
<rect x="617" y="195" width="3" height="2" fill="#32cd32"/>
<rect x="622" y="192" width="1" height="10" fill="#32cd32"/>
<rect x="621" y="196" width="3" height="1" fill="#32cd32"/>
<rect x="626" y="180" width="1" height="18" fill="#ff0000"/>
<rect x="625" y="192" width="3" height="5" fill="#ff0000"/>
<rect x="626" y="193" width="1" height="3" fill="#ff4a00"/>
<rect x="630" y="176" width="1" height="22" fill="#ff0000"/>
<rect x="629" y="182" width="3" height="10" fill="#ff0000"/>
<rect x="630" y="183" width="1" height="8" fill="#ff4a00"/>
<rect x="634" y="170" width="1" height="15" fill="#ff0000"/>
<rect x="633" y="171" width="3" height="11" fill="#ff0000"/>
<rect x="634" y="172" width="1" height="9" fill="#ff4a00"/>
<rect x="638" y="160" width="1" height="15" fill="#ff0000"/>
<rect x="637" y="166" width="3" height="6" fill="#ff0000"/>
<rect x="638" y="167" width="1" height="4" fill="#ff4a00"/>
<rect x="642" y="166" width="1" height="4" fill="#ff0000"/>
<rect x="641" y="167" width="3" height="3" fill="#ff0000"/>
<rect x="642" y="168" width="1" height="1" fill="#ff4a00"/>
<rect x="646" y="167" width="1" height="11" fill="#32cd32"/>
<rect x="645" y="167" width="3" height="5" fill="#32cd32"/>
<rect x="650" y="167" width="1" height="17" fill="#32cd32"/>
<rect x="649" y="171" width="3" height="11" fill="#32cd32"/>
<rect x="654" y="178" width="1" height="17" fill="#32cd32"/>
<rect x="653" y="181" width="3" height="8" fill="#32cd32"/>
<rect x="658" y="182" width="1" height="12" fill="#ff0000"/>
<rect x="657" y="187" width="3" height="3" fill="#ff0000"/>
<rect x="658" y="188" width="1" height="1" fill="#ff4a00"/>
<rect x="662" y="178" width="1" height="14" fill="#32cd32"/>
<rect x="661" y="186" width="3" height="5" fill="#32cd32"/>
<rect x="666" y="190" width="1" height="3" fill="#32cd32"/>
<rect x="665" y="191" width="3" height="1" fill="#32cd32"/>
<rect x="670" y="189" width="1" height="17" fill="#32cd32"/>
<rect x="669" y="191" width="3" height="1" fill="#32cd32"/>
<rect x="674" y="180" width="1" height="16" fill="#32cd32"/>
<rect x="673" y="191" width="3" height="4" fill="#32cd32"/>
<rect x="678" y="185" width="1" height="11" fill="#ff0000"/>
<rect x="677" y="189" width="3" height="6" fill="#ff0000"/>
<rect x="678" y="190" width="1" height="4" fill="#ff4a00"/>
<rect x="682" y="188" width="1" height="24" fill="#32cd32"/>
<rect x="681" y="189" width="3" height="18" fill="#32cd32"/>
<rect x="686" y="199" width="1" height="21" fill="#32cd32"/>
<rect x="685" y="206" width="3" height="13" fill="#32cd32"/>
<rect x="690" y="218" width="1" height="2" fill="#ff0000"/>
<rect x="689" y="218" width="3" height="1" fill="#ff0000"/>
<rect x="694" y="216" width="1" height="12" fill="#32cd32"/>
<rect x="693" y="218" width="3" height="2" fill="#32cd32"/>
<rect x="698" y="212" width="1" height="12" fill="#32cd32"/>
<rect x="697" y="219" width="3" height="2" fill="#32cd32"/>
<rect x="702" y="209" width="1" height="24" fill="#32cd32"/>
<rect x="701" y="220" width="3" height="12" fill="#32cd32"/>
<rect x="706" y="211" width="1" height="23" fill="#ff0000"/>
<rect x="705" y="214" width="3" height="17" fill="#ff0000"/>
<rect x="706" y="215" width="1" height="15" fill="#ff4a00"/>
<rect x="710" y="212" width="1" height="16" fill="#32cd32"/>
<rect x="709" y="214" width="3" height="8" fill="#32cd32"/>
<rect x="714" y="220" width="1" height="3" fill="#ff0000"/>
<rect x="713" y="220" width="3" height="2" fill="#ff0000"/>
<rect x="718" y="219" width="1" height="13" fill="#32cd32"/>
<rect x="717" y="220" width="3" height="10" fill="#32cd32"/>
<rect x="722" y="226" width="1" height="13" fill="#32cd32"/>
<rect x="721" y="229" width="3" height="4" fill="#32cd32"/>
<rect x="726" y="231" width="1" height="33" fill="#32cd32"/>
<rect x="725" y="232" width="3" height="28" fill="#32cd32"/>
<rect x="730" y="257" width="1" height="16" fill="#32cd32"/>
<rect x="729" y="259" width="3" height="10" fill="#32cd32"/>
<rect x="734" y="257" width="1" height="16" fill="#ff0000"/>
<rect x="733" y="261" width="3" height="8" fill="#ff0000"/>
<rect x="734" y="262" width="1" height="6" fill="#ff4a00"/>
<rect x="738" y="256" width="1" height="3" fill="#32cd32"/>
<rect x="737" y="256" width="3" height="3" fill="#32cd32"/>
<rect x="742" y="247" width="1" height="18" fill="#ff0000"/>
<rect x="741" y="254" width="3" height="5" fill="#ff0000"/>
<rect x="742" y="255" width="1" height="3" fill="#ff4a00"/>
<rect x="746" y="253" width="1" height="14" fill="#32cd32"/>
<rect x="745" y="254" width="3" height="8" fill="#32cd32"/>
<rect x="750" y="260" width="1" height="23" fill="#32cd32"/>
<rect x="749" y="261" width="3" height="14" fill="#32cd32"/>
<rect x="754" y="269" width="1" height="9" fill="#ff0000"/>
<rect x="753" y="273" width="3" height="2" fill="#ff0000"/>
<rect x="758" y="264" width="1" height="16" fill="#ff0000"/>
<rect x="757" y="267" width="3" height="7" fill="#ff0000"/>
<rect x="758" y="268" width="1" height="5" fill="#ff4a00"/>
<rect x="762" y="270" width="1" height="2" fill="#32cd32"/>
<rect x="761" y="270" width="3" height="1" fill="#32cd32"/>
<rect x="766" y="264" width="1" height="14" fill="#32cd32"/>
<rect x="765" y="271" width="3" height="5" fill="#32cd32"/>
<rect x="770" y="269" width="1" height="16" fill="#32cd32"/>
<rect x="769" y="275" width="3" height="7" fill="#32cd32"/>
<rect x="774" y="260" width="1" height="22" fill="#ff0000"/>
<rect x="773" y="261" width="3" height="21" fill="#ff0000"/>
<rect x="774" y="262" width="1" height="19" fill="#ff4a00"/>
<rect x="778" y="252" width="1" height="14" fill="#32cd32"/>
<rect x="777" y="261" width="3" height="4" fill="#32cd32"/>
<rect x="782" y="254" width="1" height="11" fill="#ff0000"/>
<rect x="781" y="258" width="3" height="6" fill="#ff0000"/>
<rect x="782" y="259" width="1" height="4" fill="#ff4a00"/>
<rect x="786" y="260" width="1" height="2" fill="#32cd32"/>
<rect x="785" y="260" width="3" height="1" fill="#32cd32"/>
<rect x="790" y="252" width="1" height="18" fill="#ff0000"/>
<rect x="789" y="255" width="3" height="6" fill="#ff0000"/>
<rect x="790" y="256" width="1" height="4" fill="#ff4a00"/>
<rect x="794" y="237" width="1" height="20" fill="#ff0000"/>
<rect x="793" y="250" width="3" height="7" fill="#ff0000"/>
<rect x="794" y="251" width="1" height="5" fill="#ff4a00"/>
<rect x="798" y="241" width="1" height="14" fill="#ff0000"/>
<rect x="797" y="242" width="3" height="8" fill="#ff0000"/>
<rect x="798" y="243" width="1" height="6" fill="#ff4a00"/>
<rect x="802" y="238" width="1" height="16" fill="#32cd32"/>
<rect x="801" y="242" width="3" height="10" fill="#32cd32"/>
<rect x="806" y="242" width="1" height="12" fill="#ff0000"/>
<rect x="805" y="248" width="3" height="5" fill="#ff0000"/>
<rect x="806" y="249" width="1" height="3" fill="#ff4a00"/>
<rect x="810" y="245" width="1" height="3" fill="#32cd32"/>
<rect x="809" y="245" width="3" height="3" fill="#32cd32"/>
<rect x="814" y="239" width="1" height="25" fill="#32cd32"/>
<rect x="813" y="247" width="3" height="11" fill="#32cd32"/>
<rect x="818" y="251" width="1" height="15" fill="#32cd32"/>
<rect x="817" y="257" width="3" height="5" fill="#32cd32"/>
<rect x="822" y="251" width="1" height="15" fill="#ff0000"/>
<rect x="821" y="260" width="3" height="2" fill="#ff0000"/>
<rect x="826" y="230" width="1" height="36" fill="#ff0000"/>
<rect x="825" y="232" width="3" height="29" fill="#ff0000"/>
<rect x="826" y="233" width="1" height="27" fill="#ff4a00"/>
<rect x="830" y="231" width="1" height="51" fill="#32cd32"/>
<rect x="829" y="232" width="3" height="42" fill="#32cd32"/>
<rect x="834" y="272" width="1" height="3" fill="#32cd32"/>
<rect x="833" y="272" width="3" height="3" fill="#32cd32"/>
<rect x="838" y="257" width="1" height="21" fill="#ff0000"/>
<rect x="837" y="259" width="3" height="15" fill="#ff0000"/>
<rect x="838" y="260" width="1" height="13" fill="#ff4a00"/>
<rect x="842" y="256" width="1" height="12" fill="#32cd32"/>
<rect x="841" y="258" width="3" height="10" fill="#32cd32"/>
<rect x="846" y="254" width="1" height="19" fill="#ff0000"/>
<rect x="845" y="255" width="3" height="13" fill="#ff0000"/>
<rect x="846" y="256" width="1" height="11" fill="#ff4a00"/>
<rect x="850" y="255" width="1" height="29" fill="#32cd32"/>
<rect x="849" y="255" width="3" height="20" fill="#32cd32"/>
<rect x="854" y="270" width="1" height="19" fill="#32cd32"/>
<rect x="853" y="274" width="3" height="3" fill="#32cd32"/>
<rect x="858" y="270" width="1" height="3" fill="#ff0000"/>
<rect x="857" y="270" width="3" height="2" fill="#ff0000"/>
<rect x="862" y="261" width="1" height="16" fill="#ff0000"/>
<rect x="861" y="264" width="3" height="7" fill="#ff0000"/>
<rect x="862" y="265" width="1" height="5" fill="#ff4a00"/>
<rect x="866" y="257" width="1" height="14" fill="#ff0000"/>
<rect x="865" y="262" width="3" height="3" fill="#ff0000"/>
<rect x="866" y="263" width="1" height="1" fill="#ff4a00"/>
<rect x="870" y="261" width="1" height="40" fill="#32cd32"/>
<rect x="869" y="262" width="3" height="36" fill="#32cd32"/>
<rect x="874" y="296" width="1" height="16" fill="#32cd32"/>
<rect x="873" y="297" width="3" height="13" fill="#32cd32"/>
<rect x="878" y="304" width="1" height="11" fill="#32cd32"/>
<rect x="877" y="309" width="3" height="3" fill="#32cd32"/>
<rect x="882" y="310" width="1" height="2" fill="#32cd32"/>
<rect x="881" y="310" width="3" height="1" fill="#32cd32"/>
<rect x="886" y="304" width="1" height="36" fill="#32cd32"/>
<rect x="885" y="311" width="3" height="25" fill="#32cd32"/>
<rect x="890" y="329" width="1" height="26" fill="#32cd32"/>
<rect x="889" y="335" width="3" height="17" fill="#32cd32"/>
<rect x="894" y="346" width="1" height="24" fill="#32cd32"/>
<rect x="893" y="351" width="3" height="1" fill="#32cd32"/>
<rect x="898" y="333" width="1" height="20" fill="#ff0000"/>
<rect x="897" y="335" width="3" height="17" fill="#ff0000"/>
<rect x="898" y="336" width="1" height="15" fill="#ff4a00"/>
<rect x="902" y="334" width="1" height="40" fill="#32cd32"/>
<rect x="901" y="335" width="3" height="26" fill="#32cd32"/>
<rect x="906" y="361" width="1" height="5" fill="#32cd32"/>
<rect x="905" y="361" width="3" height="5" fill="#32cd32"/>
<rect x="910" y="360" width="1" height="20" fill="#32cd32"/>
<rect x="909" y="365" width="3" height="12" fill="#32cd32"/>
<rect x="914" y="365" width="1" height="17" fill="#ff0000"/>
<rect x="913" y="375" width="3" height="2" fill="#ff0000"/>
<rect x="918" y="371" width="1" height="24" fill="#32cd32"/>
<rect x="917" y="375" width="3" height="13" fill="#32cd32"/>
<rect x="922" y="380" width="1" height="9" fill="#ff0000"/>
<rect x="921" y="386" width="3" height="2" fill="#ff0000"/>
<rect x="926" y="350" width="1" height="38" fill="#ff0000"/>
<rect x="925" y="352" width="3" height="35" fill="#ff0000"/>
<rect x="926" y="353" width="1" height="33" fill="#ff4a00"/>
</g>
<path d="M352.8 96.3 L356.3 96.3 L354.5 93.3 Z" fill="#000"/>
</g>
<g shape-rendering="crispEdges">
<rect x="5" y="159" width="6" height="6" fill="#ff0000"/>
<rect x="7" y="161" width="2" height="2" fill="#fff"/>
<rect x="1162" y="159" width="6" height="6" fill="#ff0000"/>
<rect x="1164" y="161" width="2" height="2" fill="#fff"/>
<rect x="5" y="224" width="6" height="6" fill="#ff0000"/>
<rect x="7" y="226" width="2" height="2" fill="#fff"/>
<rect x="1162" y="224" width="6" height="6" fill="#ff0000"/>
<rect x="1164" y="226" width="2" height="2" fill="#fff"/>
<rect x="5" y="279" width="6" height="6" fill="#ff0000"/>
<rect x="7" y="281" width="2" height="2" fill="#fff"/>
<rect x="1162" y="279" width="6" height="6" fill="#ff0000"/>
<rect x="1164" y="281" width="2" height="2" fill="#fff"/>
<rect x="5" y="321" width="6" height="6" fill="#00ff00"/>
<rect x="7" y="323" width="2" height="2" fill="#fff"/>
<rect x="1162" y="321" width="6" height="6" fill="#00ff00"/>
<rect x="1164" y="323" width="2" height="2" fill="#fff"/>
<rect x="5" y="385" width="6" height="6" fill="#0000ff"/>
<rect x="7" y="387" width="2" height="2" fill="#fff"/>
<rect x="1162" y="385" width="6" height="6" fill="#0000ff"/>
<rect x="1164" y="387" width="2" height="2" fill="#fff"/>
</g>
<g clip-path="url(#c2)">
<rect x="5.25" y="432.0" width="2.5" height="2.0" fill="#c0c0c0"/>
<rect x="9.25" y="432.0" width="2.5" height="5.0" fill="#c0c0c0"/>
<rect x="13.25" y="432.0" width="2.5" height="8.0" fill="#c0c0c0"/>
<rect x="17.25" y="432.0" width="2.5" height="12.7" fill="#c0c0c0"/>
<rect x="21.25" y="432.0" width="2.5" height="16.3" fill="#c0c0c0"/>
<rect x="25.25" y="432.0" width="2.5" height="20.0" fill="#c0c0c0"/>
<rect x="29.25" y="432.0" width="2.5" height="22.0" fill="#c0c0c0"/>
<rect x="33.25" y="432.0" width="2.5" height="22.7" fill="#c0c0c0"/>
<rect x="37.25" y="432.0" width="2.5" height="21.0" fill="#c0c0c0"/>
<rect x="41.25" y="432.0" width="2.5" height="20.0" fill="#c0c0c0"/>
<rect x="45.25" y="432.0" width="2.5" height="19.7" fill="#c0c0c0"/>
<rect x="49.25" y="432.0" width="2.5" height="19.3" fill="#c0c0c0"/>
<rect x="53.25" y="432.0" width="2.5" height="19.3" fill="#c0c0c0"/>
<rect x="57.25" y="432.0" width="2.5" height="18.3" fill="#c0c0c0"/>
<rect x="61.25" y="432.0" width="2.5" height="17.7" fill="#c0c0c0"/>
<rect x="65.25" y="432.0" width="2.5" height="17.7" fill="#c0c0c0"/>
<rect x="69.25" y="432.0" width="2.5" height="18.0" fill="#c0c0c0"/>
<rect x="73.25" y="432.0" width="2.5" height="18.0" fill="#c0c0c0"/>
<rect x="77.25" y="432.0" width="2.5" height="19.3" fill="#c0c0c0"/>
<rect x="81.25" y="432.0" width="2.5" height="21.0" fill="#c0c0c0"/>
<rect x="85.25" y="432.0" width="2.5" height="23.3" fill="#c0c0c0"/>
<rect x="89.25" y="432.0" width="2.5" height="24.7" fill="#c0c0c0"/>
<rect x="93.25" y="432.0" width="2.5" height="26.0" fill="#c0c0c0"/>
<rect x="97.25" y="432.0" width="2.5" height="27.0" fill="#c0c0c0"/>
<rect x="101.25" y="432.0" width="2.5" height="28.8" fill="#c0c0c0"/>
<rect x="105.25" y="432.0" width="2.5" height="29.7" fill="#c0c0c0"/>
<rect x="109.25" y="432.0" width="2.5" height="28.8" fill="#c0c0c0"/>
<rect x="113.25" y="432.0" width="2.5" height="27.7" fill="#c0c0c0"/>
<rect x="117.25" y="432.0" width="2.5" height="25.5" fill="#c0c0c0"/>
<rect x="121.25" y="432.0" width="2.5" height="21.3" fill="#c0c0c0"/>
<rect x="125.25" y="432.0" width="2.5" height="17.7" fill="#c0c0c0"/>
<rect x="129.25" y="432.0" width="2.5" height="13.8" fill="#c0c0c0"/>
<rect x="133.25" y="432.0" width="2.5" height="10.5" fill="#c0c0c0"/>
<rect x="137.25" y="432.0" width="2.5" height="7.7" fill="#c0c0c0"/>
<rect x="141.25" y="432.0" width="2.5" height="5.5" fill="#c0c0c0"/>
<rect x="145.25" y="432.0" width="2.5" height="2.7" fill="#c0c0c0"/>
<rect x="149.25" y="431.3" width="2.5" height="0.7" fill="#c0c0c0"/>
<rect x="153.25" y="428.3" width="2.5" height="3.7" fill="#c0c0c0"/>
<rect x="157.25" y="427.0" width="2.5" height="5.0" fill="#c0c0c0"/>
<rect x="161.25" y="425.8" width="2.5" height="6.2" fill="#c0c0c0"/>
<rect x="165.25" y="423.0" width="2.5" height="9.0" fill="#c0c0c0"/>
<rect x="169.25" y="420.3" width="2.5" height="11.7" fill="#c0c0c0"/>
<rect x="173.25" y="418.3" width="2.5" height="13.7" fill="#c0c0c0"/>
<rect x="177.25" y="416.7" width="2.5" height="15.3" fill="#c0c0c0"/>
<rect x="181.25" y="415.0" width="2.5" height="17.0" fill="#c0c0c0"/>
<rect x="185.25" y="414.0" width="2.5" height="18.0" fill="#c0c0c0"/>
<rect x="189.25" y="413.4" width="2.5" height="18.6" fill="#c0c0c0"/>
<rect x="193.25" y="412.0" width="2.5" height="20.0" fill="#c0c0c0"/>
<rect x="197.25" y="410.4" width="2.5" height="21.6" fill="#c0c0c0"/>
<rect x="201.25" y="410.4" width="2.5" height="21.6" fill="#c0c0c0"/>
<rect x="205.25" y="412.0" width="2.5" height="20.0" fill="#c0c0c0"/>
<rect x="209.25" y="415.0" width="2.5" height="17.0" fill="#c0c0c0"/>
<rect x="213.25" y="416.0" width="2.5" height="16.0" fill="#c0c0c0"/>
<rect x="217.25" y="417.9" width="2.5" height="14.1" fill="#c0c0c0"/>
<rect x="221.25" y="419.9" width="2.5" height="12.1" fill="#c0c0c0"/>
<rect x="225.25" y="419.9" width="2.5" height="12.1" fill="#c0c0c0"/>
<rect x="229.25" y="417.4" width="2.5" height="14.6" fill="#c0c0c0"/>
<rect x="233.25" y="415.4" width="2.5" height="16.6" fill="#c0c0c0"/>
<rect x="237.25" y="414.4" width="2.5" height="17.6" fill="#c0c0c0"/>
<rect x="241.25" y="414.4" width="2.5" height="17.6" fill="#c0c0c0"/>
<rect x="245.25" y="416.0" width="2.5" height="16.0" fill="#c0c0c0"/>
<rect x="249.25" y="417.4" width="2.5" height="14.6" fill="#c0c0c0"/>
<rect x="253.25" y="417.4" width="2.5" height="14.6" fill="#c0c0c0"/>
<rect x="257.25" y="417.4" width="2.5" height="14.6" fill="#c0c0c0"/>
<rect x="261.25" y="416.0" width="2.5" height="16.0" fill="#c0c0c0"/>
<rect x="265.25" y="414.4" width="2.5" height="17.6" fill="#c0c0c0"/>
<rect x="269.25" y="414.0" width="2.5" height="18.0" fill="#c0c0c0"/>
<rect x="273.25" y="413.0" width="2.5" height="19.0" fill="#c0c0c0"/>
<rect x="277.25" y="413.0" width="2.5" height="19.0" fill="#c0c0c0"/>
<rect x="281.25" y="413.7" width="2.5" height="18.3" fill="#c0c0c0"/>
<rect x="285.25" y="413.7" width="2.5" height="18.3" fill="#c0c0c0"/>
<rect x="289.25" y="412.9" width="2.5" height="19.1" fill="#c0c0c0"/>
<rect x="293.25" y="413.7" width="2.5" height="18.3" fill="#c0c0c0"/>
<rect x="297.25" y="414.4" width="2.5" height="17.6" fill="#c0c0c0"/>
<rect x="301.25" y="416.0" width="2.5" height="16.0" fill="#c0c0c0"/>
<rect x="305.25" y="416.9" width="2.5" height="15.1" fill="#c0c0c0"/>
<rect x="309.25" y="416.0" width="2.5" height="16.0" fill="#c0c0c0"/>
<rect x="313.25" y="416.9" width="2.5" height="15.1" fill="#c0c0c0"/>
<rect x="317.25" y="418.6" width="2.5" height="13.4" fill="#c0c0c0"/>
<rect x="321.25" y="421.0" width="2.5" height="11.0" fill="#c0c0c0"/>
<rect x="325.25" y="422.3" width="2.5" height="9.7" fill="#c0c0c0"/>
<rect x="329.25" y="423.6" width="2.5" height="8.4" fill="#c0c0c0"/>
<rect x="333.25" y="424.0" width="2.5" height="8.0" fill="#c0c0c0"/>
<rect x="337.25" y="424.8" width="2.5" height="7.2" fill="#c0c0c0"/>
<rect x="341.25" y="425.6" width="2.5" height="6.4" fill="#c0c0c0"/>
<rect x="345.25" y="426.0" width="2.5" height="6.0" fill="#c0c0c0"/>
<rect x="349.25" y="429.3" width="2.5" height="2.7" fill="#c0c0c0"/>
<rect x="353.25" y="431.0" width="2.5" height="1.0" fill="#c0c0c0"/>
<rect x="357.25" y="431.8" width="2.5" height="0.5" fill="#c0c0c0"/>
<rect x="361.25" y="432.0" width="2.5" height="1.5" fill="#c0c0c0"/>
<rect x="365.25" y="432.0" width="2.5" height="6.5" fill="#c0c0c0"/>
<rect x="369.25" y="432.0" width="2.5" height="12.7" fill="#c0c0c0"/>
<rect x="373.25" y="432.0" width="2.5" height="19.0" fill="#c0c0c0"/>
<rect x="377.25" y="432.0" width="2.5" height="23.0" fill="#c0c0c0"/>
<rect x="381.25" y="432.0" width="2.5" height="25.6" fill="#c0c0c0"/>
<rect x="385.25" y="432.0" width="2.5" height="26.4" fill="#c0c0c0"/>
<rect x="389.25" y="432.0" width="2.5" height="27.0" fill="#c0c0c0"/>
<rect x="393.25" y="432.0" width="2.5" height="27.0" fill="#c0c0c0"/>
<rect x="397.25" y="432.0" width="2.5" height="26.4" fill="#c0c0c0"/>
<rect x="401.25" y="432.0" width="2.5" height="25.0" fill="#c0c0c0"/>
<rect x="405.25" y="432.0" width="2.5" height="24.6" fill="#c0c0c0"/>
<rect x="409.25" y="432.0" width="2.5" height="25.0" fill="#c0c0c0"/>
<rect x="413.25" y="432.0" width="2.5" height="25.6" fill="#c0c0c0"/>
<rect x="417.25" y="432.0" width="2.5" height="26.4" fill="#c0c0c0"/>
<rect x="421.25" y="432.0" width="2.5" height="26.9" fill="#c0c0c0"/>
<rect x="425.25" y="432.0" width="2.5" height="26.9" fill="#c0c0c0"/>
<rect x="429.25" y="432.0" width="2.5" height="26.4" fill="#c0c0c0"/>
<rect x="433.25" y="432.0" width="2.5" height="27.0" fill="#c0c0c0"/>
<rect x="437.25" y="432.0" width="2.5" height="28.0" fill="#c0c0c0"/>
<rect x="441.25" y="432.0" width="2.5" height="27.0" fill="#c0c0c0"/>
<rect x="445.25" y="432.0" width="2.5" height="25.0" fill="#c0c0c0"/>
<rect x="449.25" y="432.0" width="2.5" height="23.0" fill="#c0c0c0"/>
<rect x="453.25" y="432.0" width="2.5" height="21.4" fill="#c0c0c0"/>
<rect x="457.25" y="432.0" width="2.5" height="22.6" fill="#c0c0c0"/>
<rect x="461.25" y="432.0" width="2.5" height="22.6" fill="#c0c0c0"/>
<rect x="465.25" y="432.0" width="2.5" height="21.4" fill="#c0c0c0"/>
<rect x="469.25" y="432.0" width="2.5" height="20.9" fill="#c0c0c0"/>
<rect x="473.25" y="432.0" width="2.5" height="20.9" fill="#c0c0c0"/>
<rect x="477.25" y="432.0" width="2.5" height="20.9" fill="#c0c0c0"/>
<rect x="481.25" y="432.0" width="2.5" height="20.6" fill="#c0c0c0"/>
<rect x="485.25" y="432.0" width="2.5" height="20.6" fill="#c0c0c0"/>
<rect x="489.25" y="432.0" width="2.5" height="20.6" fill="#c0c0c0"/>
<rect x="493.25" y="432.0" width="2.5" height="20.1" fill="#c0c0c0"/>
<rect x="497.25" y="432.0" width="2.5" height="19.6" fill="#c0c0c0"/>
<rect x="501.25" y="432.0" width="2.5" height="17.7" fill="#c0c0c0"/>
<rect x="505.25" y="432.0" width="2.5" height="16.4" fill="#c0c0c0"/>
<rect x="509.25" y="432.0" width="2.5" height="14.0" fill="#c0c0c0"/>
<rect x="513.25" y="432.0" width="2.5" height="9.7" fill="#c0c0c0"/>
<rect x="517.25" y="432.0" width="2.5" height="7.7" fill="#c0c0c0"/>
<rect x="521.25" y="432.0" width="2.5" height="6.5" fill="#c0c0c0"/>
<rect x="525.25" y="432.0" width="2.5" height="4.8" fill="#c0c0c0"/>
<rect x="529.25" y="432.0" width="2.5" height="4.0" fill="#c0c0c0"/>
<rect x="533.25" y="432.0" width="2.5" height="4.0" fill="#c0c0c0"/>
<rect x="537.25" y="432.0" width="2.5" height="4.8" fill="#c0c0c0"/>
<rect x="541.25" y="432.0" width="2.5" height="7.2" fill="#c0c0c0"/>
<rect x="545.25" y="432.0" width="2.5" height="9.0" fill="#c0c0c0"/>
<rect x="549.25" y="432.0" width="2.5" height="10.7" fill="#c0c0c0"/>
<rect x="553.25" y="432.0" width="2.5" height="12.7" fill="#c0c0c0"/>
<rect x="557.25" y="432.0" width="2.5" height="13.4" fill="#c0c0c0"/>
<rect x="561.25" y="432.0" width="2.5" height="14.0" fill="#c0c0c0"/>
<rect x="565.25" y="432.0" width="2.5" height="12.2" fill="#c0c0c0"/>
<rect x="569.25" y="432.0" width="2.5" height="10.7" fill="#c0c0c0"/>
<rect x="573.25" y="432.0" width="2.5" height="10.7" fill="#c0c0c0"/>
<rect x="577.25" y="432.0" width="2.5" height="12.2" fill="#c0c0c0"/>
<rect x="581.25" y="432.0" width="2.5" height="13.4" fill="#c0c0c0"/>
<rect x="585.25" y="432.0" width="2.5" height="15.2" fill="#c0c0c0"/>
<rect x="589.25" y="432.0" width="2.5" height="15.2" fill="#c0c0c0"/>
<rect x="593.25" y="432.0" width="2.5" height="15.7" fill="#c0c0c0"/>
<rect x="597.25" y="432.0" width="2.5" height="14.0" fill="#c0c0c0"/>
<rect x="601.25" y="432.0" width="2.5" height="12.2" fill="#c0c0c0"/>
<rect x="605.25" y="432.0" width="2.5" height="10.2" fill="#c0c0c0"/>
<rect x="609.25" y="432.0" width="2.5" height="9.0" fill="#c0c0c0"/>
<rect x="613.25" y="432.0" width="2.5" height="7.2" fill="#c0c0c0"/>
<rect x="617.25" y="432.0" width="2.5" height="5.2" fill="#c0c0c0"/>
<rect x="621.25" y="432.0" width="2.5" height="4.0" fill="#c0c0c0"/>
<rect x="625.25" y="432.0" width="2.5" height="2.3" fill="#c0c0c0"/>
<rect x="629.25" y="431.0" width="2.5" height="1.0" fill="#c0c0c0"/>
<rect x="633.25" y="429.3" width="2.5" height="2.7" fill="#c0c0c0"/>
<rect x="637.25" y="426.0" width="2.5" height="6.0" fill="#c0c0c0"/>
<rect x="641.25" y="424.3" width="2.5" height="7.7" fill="#c0c0c0"/>
<rect x="645.25" y="423.0" width="2.5" height="9.0" fill="#c0c0c0"/>
<rect x="649.25" y="423.0" width="2.5" height="9.0" fill="#c0c0c0"/>
<rect x="653.25" y="424.0" width="2.5" height="8.0" fill="#c0c0c0"/>
<rect x="657.25" y="424.8" width="2.5" height="7.2" fill="#c0c0c0"/>
<rect x="661.25" y="425.6" width="2.5" height="6.4" fill="#c0c0c0"/>
<rect x="665.25" y="426.8" width="2.5" height="5.2" fill="#c0c0c0"/>
<rect x="669.25" y="427.8" width="2.5" height="4.2" fill="#c0c0c0"/>
<rect x="673.25" y="429.3" width="2.5" height="2.7" fill="#c0c0c0"/>
<rect x="677.25" y="429.3" width="2.5" height="2.7" fill="#c0c0c0"/>
<rect x="681.25" y="431.8" width="2.5" height="0.5" fill="#c0c0c0"/>
<rect x="685.25" y="432.0" width="2.5" height="2.8" fill="#c0c0c0"/>
<rect x="689.25" y="432.0" width="2.5" height="4.8" fill="#c0c0c0"/>
<rect x="693.25" y="432.0" width="2.5" height="5.7" fill="#c0c0c0"/>
<rect x="697.25" y="432.0" width="2.5" height="7.7" fill="#c0c0c0"/>
<rect x="701.25" y="432.0" width="2.5" height="9.7" fill="#c0c0c0"/>
<rect x="705.25" y="432.0" width="2.5" height="9.7" fill="#c0c0c0"/>
<rect x="709.25" y="432.0" width="2.5" height="9.0" fill="#c0c0c0"/>
<rect x="713.25" y="432.0" width="2.5" height="9.7" fill="#c0c0c0"/>
<rect x="717.25" y="432.0" width="2.5" height="10.7" fill="#c0c0c0"/>
<rect x="721.25" y="432.0" width="2.5" height="12.2" fill="#c0c0c0"/>
<rect x="725.25" y="432.0" width="2.5" height="15.2" fill="#c0c0c0"/>
<rect x="729.25" y="432.0" width="2.5" height="18.2" fill="#c0c0c0"/>
<rect x="733.25" y="432.0" width="2.5" height="20.1" fill="#c0c0c0"/>
<rect x="737.25" y="432.0" width="2.5" height="20.6" fill="#c0c0c0"/>
<rect x="741.25" y="432.0" width="2.5" height="20.6" fill="#c0c0c0"/>
<rect x="745.25" y="432.0" width="2.5" height="20.6" fill="#c0c0c0"/>
<rect x="749.25" y="432.0" width="2.5" height="22.1" fill="#c0c0c0"/>
<rect x="753.25" y="432.0" width="2.5" height="22.6" fill="#c0c0c0"/>
<rect x="757.25" y="432.0" width="2.5" height="22.6" fill="#c0c0c0"/>
<rect x="761.25" y="432.0" width="2.5" height="22.6" fill="#c0c0c0"/>
<rect x="765.25" y="432.0" width="2.5" height="23.1" fill="#c0c0c0"/>
<rect x="769.25" y="432.0" width="2.5" height="23.6" fill="#c0c0c0"/>
<rect x="773.25" y="432.0" width="2.5" height="22.1" fill="#c0c0c0"/>
<rect x="777.25" y="432.0" width="2.5" height="20.1" fill="#c0c0c0"/>
<rect x="781.25" y="432.0" width="2.5" height="19.0" fill="#c0c0c0"/>
<rect x="785.25" y="432.0" width="2.5" height="17.2" fill="#c0c0c0"/>
<rect x="789.25" y="432.0" width="2.5" height="14.7" fill="#c0c0c0"/>
<rect x="793.25" y="432.0" width="2.5" height="12.7" fill="#c0c0c0"/>
<rect x="797.25" y="432.0" width="2.5" height="10.2" fill="#c0c0c0"/>
<rect x="801.25" y="432.0" width="2.5" height="8.2" fill="#c0c0c0"/>
<rect x="805.25" y="432.0" width="2.5" height="7.2" fill="#c0c0c0"/>
<rect x="809.25" y="432.0" width="2.5" height="6.5" fill="#c0c0c0"/>
<rect x="813.25" y="432.0" width="2.5" height="6.5" fill="#c0c0c0"/>
<rect x="817.25" y="432.0" width="2.5" height="6.5" fill="#c0c0c0"/>
<rect x="821.25" y="432.0" width="2.5" height="5.7" fill="#c0c0c0"/>
<rect x="825.25" y="432.0" width="2.5" height="4.0" fill="#c0c0c0"/>
<rect x="829.25" y="432.0" width="2.5" height="6.5" fill="#c0c0c0"/>
<rect x="833.25" y="432.0" width="2.5" height="7.2" fill="#c0c0c0"/>
<rect x="837.25" y="432.0" width="2.5" height="6.5" fill="#c0c0c0"/>
<rect x="841.25" y="432.0" width="2.5" height="6.5" fill="#c0c0c0"/>
<rect x="845.25" y="432.0" width="2.5" height="6.5" fill="#c0c0c0"/>
<rect x="849.25" y="432.0" width="2.5" height="7.2" fill="#c0c0c0"/>
<rect x="853.25" y="432.0" width="2.5" height="8.2" fill="#c0c0c0"/>
<rect x="857.25" y="432.0" width="2.5" height="8.2" fill="#c0c0c0"/>
<rect x="861.25" y="432.0" width="2.5" height="7.2" fill="#c0c0c0"/>
<rect x="865.25" y="432.0" width="2.5" height="7.2" fill="#c0c0c0"/>
<rect x="869.25" y="432.0" width="2.5" height="9.7" fill="#c0c0c0"/>
<rect x="873.25" y="432.0" width="2.5" height="12.7" fill="#c0c0c0"/>
<rect x="877.25" y="432.0" width="2.5" height="15.7" fill="#c0c0c0"/>
<rect x="881.25" y="432.0" width="2.5" height="17.2" fill="#c0c0c0"/>
<rect x="885.25" y="432.0" width="2.5" height="20.6" fill="#c0c0c0"/>
<rect x="889.25" y="432.0" width="2.5" height="24.6" fill="#c0c0c0"/>
<rect x="893.25" y="432.0" width="2.5" height="27.1" fill="#c0c0c0"/>
<rect x="897.25" y="432.0" width="2.5" height="28.1" fill="#c0c0c0"/>
<rect x="901.25" y="432.0" width="2.5" height="30.1" fill="#c0c0c0"/>
<rect x="905.25" y="432.0" width="2.5" height="32.1" fill="#c0c0c0"/>
<rect x="909.25" y="432.0" width="2.5" height="33.8" fill="#c0c0c0"/>
<rect x="913.25" y="432.0" width="2.5" height="35.5" fill="#c0c0c0"/>
<rect x="917.25" y="432.0" width="2.5" height="38.0" fill="#c0c0c0"/>
<rect x="921.25" y="432.0" width="2.5" height="38.8" fill="#c0c0c0"/>
<rect x="925.25" y="432.0" width="2.5" height="35.5" fill="#c0c0c0"/>
<path d="M6 432h6v1h-6zM12 433h6v1h-6zM18 434h2v1h-2zM20 435h2v1h-2zM22 436h1v1h-1zM23 437h2v1h-2zM25 438h1v1h-1zM26 439h2v1h-2zM28 440h2v1h-2zM30 441h1v1h-1zM31 442h2v1h-2zM33 443h2v1h-2zM35 444h2v1h-2zM37 445h2v1h-2zM39 446h2v1h-2zM41 447h2v1h-2zM43 448h2v1h-2zM45 449h4v1h-4zM49 450h4v1h-4zM53 451h4v1h-4zM57 452h5v1h-5zM62 451h6v1h-6zM68 450h22v1h-22zM90 451h4v1h-4zM94 452h4v1h-4zM98 453h4v1h-4zM102 454h4v1h-4zM106 455h3v1h-3zM109 456h4v1h-4zM113 457h4v1h-4zM117 458h8v1h-8zM125 457h4v1h-4zM129 456h3v1h-3zM132 455h2v1h-2zM134 454h2v1h-2zM136 453h1v1h-1zM137 452h2v1h-2zM139 451h1v1h-1zM140 450h1v1h-1zM141 449h2v1h-2zM143 448h1v1h-1zM144 447h2v1h-2zM146 446h1v1h-1zM147 445h2v1h-2zM149 444h1v1h-1zM150 443h1v1h-1zM151 442h2v1h-2zM153 441h1v1h-1zM154 440h1v1h-1zM155 439h2v1h-2zM157 438h1v1h-1zM158 437h1v1h-1zM159 436h1v1h-1zM160 435h2v1h-2zM162 434h1v1h-1zM163 433h2v1h-2zM165 432h2v1h-2zM167 431h2v1h-2zM169 430h2v1h-2zM171 429h2v1h-2zM173 428h2v1h-2zM175 427h2v1h-2zM177 426h2v1h-2zM179 425h2v1h-2zM181 424h2v1h-2zM183 423h2v1h-2zM185 422h2v1h-2zM187 421h2v1h-2zM189 420h2v1h-2zM191 419h2v1h-2zM193 418h2v1h-2zM195 417h2v1h-2zM197 416h2v1h-2zM199 415h2v1h-2zM201 414h11v1h-11zM212 413h10v1h-10zM222 414h4v1h-4zM226 415h5v1h-5zM231 416h8v1h-8zM239 417h22v1h-22zM261 416h8v1h-8zM269 415h12v1h-12zM281 414h34v1h-34zM315 415h4v1h-4zM319 416h4v1h-4zM323 417h4v1h-4zM327 418h4v1h-4zM331 419h4v1h-4zM335 420h4v1h-4zM339 421h4v1h-4zM343 422h3v1h-3zM346 423h3v1h-3zM349 424h3v1h-3zM352 425h3v1h-3zM355 426h3v1h-3zM358 427h3v1h-3zM361 428h2v1h-2zM363 429h2v1h-2zM365 430h2v1h-2zM367 431h1v1h-1zM368 432h2v1h-2zM370 433h1v1h-1zM371 434h1v1h-1zM372 435h2v1h-2zM374 436h1v1h-1zM375 437h1v1h-1zM376 438h2v1h-2zM378 439h1v1h-1zM379 440h1v1h-1zM380 441h2v1h-2zM382 442h1v1h-1zM383 443h2v1h-2zM385 444h1v1h-1zM386 445h2v1h-2zM388 446h1v1h-1zM389 447h2v1h-2zM391 448h1v1h-1zM392 449h2v1h-2zM394 450h2v1h-2zM396 451h1v1h-1zM397 452h2v1h-2zM399 453h2v1h-2zM401 454h2v1h-2zM403 455h4v1h-4zM407 456h3v1h-3zM410 457h10v1h-10zM420 458h36v1h-36zM456 457h5v1h-5zM461 456h5v1h-5zM466 455h6v1h-6zM472 454h6v1h-6zM478 453h10v1h-10zM488 452h11v1h-11zM499 451h8v1h-8zM507 450h5v1h-5zM512 449h2v1h-2zM514 448h3v1h-3zM517 447h2v1h-2zM519 446h3v1h-3zM522 445h2v1h-2zM524 444h3v1h-3zM527 443h2v1h-2zM529 442h3v1h-3zM532 441h2v1h-2zM534 440h2v1h-2zM536 439h4v1h-4zM540 438h4v1h-4zM544 437h10v1h-10zM554 438h4v1h-4zM558 439h3v1h-3zM561 440h4v1h-4zM565 441h4v1h-4zM569 442h4v1h-4zM573 443h4v1h-4zM577 444h8v1h-8zM585 445h17v1h-17zM602 444h14v1h-14zM616 443h4v1h-4zM620 442h3v1h-3zM623 441h3v1h-3zM626 440h2v1h-2zM628 439h3v1h-3zM631 438h2v1h-2zM633 437h3v1h-3zM636 436h2v1h-2zM638 435h3v1h-3zM641 434h2v1h-2zM643 433h2v1h-2zM645 432h2v1h-2zM647 431h2v1h-2zM649 430h2v1h-2zM651 429h3v1h-3zM654 428h4v1h-4zM658 427h4v1h-4zM662 426h6v1h-6zM668 425h7v1h-7zM675 426h6v1h-6zM681 427h5v1h-5zM686 428h4v1h-4zM690 429h3v1h-3zM693 430h3v1h-3zM696 431h2v1h-2zM698 432h2v1h-2zM700 433h2v1h-2zM702 434h2v1h-2zM704 435h2v1h-2zM706 436h4v1h-4zM710 437h3v1h-3zM713 438h4v1h-4zM717 439h3v1h-3zM720 440h3v1h-3zM723 441h3v1h-3zM726 442h3v1h-3zM729 443h3v1h-3zM732 444h4v1h-4zM736 445h4v1h-4zM740 446h4v1h-4zM744 447h4v1h-4zM748 448h2v1h-2zM750 449h3v1h-3zM753 450h2v1h-2zM755 451h2v1h-2zM757 452h7v1h-7zM764 453h23v1h-23zM787 452h5v1h-5zM792 451h2v1h-2zM794 450h3v1h-3zM797 449h2v1h-2zM799 448h3v1h-3zM802 447h4v1h-4zM806 446h3v1h-3zM809 445h3v1h-3zM812 444h2v1h-2zM814 443h3v1h-3zM817 442h2v1h-2zM819 441h3v1h-3zM822 440h4v1h-4zM826 439h3v1h-3zM829 438h37v1h-37zM866 439h10v1h-10zM876 440h5v1h-5zM881 441h2v1h-2zM883 442h3v1h-3zM886 443h2v1h-2zM888 444h2v1h-2zM890 445h2v1h-2zM892 446h2v1h-2zM894 447h1v1h-1zM895 448h2v1h-2zM897 449h2v1h-2zM899 450h1v1h-1zM900 451h2v1h-2zM902 452h1v1h-1zM903 453h1v1h-1zM904 454h2v1h-2zM906 455h1v1h-1zM907 456h1v1h-1zM908 457h2v1h-2zM910 458h2v1h-2zM912 459h2v1h-2zM914 460h2v1h-2zM916 461h2v1h-2zM918 462h2v1h-2zM920 463h2v1h-2zM922 464h2v1h-2zM924 465h2v1h-2zM926 466h1v1h-1z" fill="#ff0000" shape-rendering="crispEdges"/>
</g>
<g clip-path="url(#c3)">
<g shape-rendering="crispEdges">
<line x1="7" y1="498.5" x2="1168" y2="498.5" stroke="#c0c0c0" stroke-width="1" stroke-dasharray="3 3"/>
<line x1="7" y1="526.5" x2="1168" y2="526.5" stroke="#c0c0c0" stroke-width="1" stroke-dasharray="3 3"/>
</g>
<path d="M6 515h2v1h-2zM8 516h2v1h-2zM10 517h1v1h-1zM11 518h1v1h-1zM12 519h1v2h-1zM13 521h1v1h-1zM14 522h1v1h-1zM15 523h2v1h-2zM17 524h6v1h-6zM23 525h2v1h-2zM25 526h1v1h-1zM26 527h1v1h-1zM27 526h1v1h-1zM28 525h2v1h-2zM30 524h1v1h-1zM31 523h2v1h-2zM33 522h2v1h-2zM35 521h1v1h-1zM36 519h1v2h-1zM37 517h1v2h-1zM38 516h2v1h-2zM40 517h2v1h-2zM42 518h8v1h-8zM50 519h3v1h-3zM53 520h3v1h-3zM55 521h1v1h-1zM56 518h1v2h-1zM57 516h1v2h-1zM58 514h1v1h-1zM58 515h2v1h-2zM60 516h1v1h-1zM61 517h1v1h-1zM62 518h3v1h-3zM65 519h3v1h-3zM68 520h2v1h-2zM70 521h1v1h-1zM71 520h1v1h-1zM72 518h1v2h-1zM73 517h1v1h-1zM74 516h1v1h-1zM75 517h1v1h-1zM76 518h1v2h-1zM77 520h1v1h-1zM78 521h3v1h-3zM81 522h3v1h-3zM84 523h2v1h-2zM86 524h4v1h-4zM90 523h8v1h-8zM98 524h3v1h-3zM101 525h2v1h-2zM103 526h5v1h-5zM108 525h1v1h-1zM109 523h1v2h-1zM110 522h1v1h-1zM111 521h4v1h-4zM115 520h2v1h-2zM117 519h1v1h-1zM118 518h1v1h-1zM119 517h1v1h-1zM120 515h1v2h-1zM121 514h1v1h-1zM122 513h3v1h-3zM125 512h3v1h-3zM128 511h2v1h-2zM130 510h7v1h-7zM137 511h4v1h-4zM141 510h2v1h-2zM143 509h1v1h-1zM144 508h1v1h-1zM145 507h2v1h-2zM147 506h2v1h-2zM149 505h3v1h-3zM152 506h10v1h-10zM162 505h1v1h-1zM163 504h1v1h-1zM164 503h1v1h-1zM165 502h1v1h-1zM166 501h3v1h-3zM169 502h6v1h-6zM175 503h2v1h-2zM177 504h1v1h-1zM178 505h1v1h-1zM179 504h1v1h-1zM180 503h1v1h-1zM181 502h1v1h-1zM182 501h1v1h-1zM183 500h6v1h-6zM189 501h6v1h-6zM195 500h1v1h-1zM196 499h1v1h-1zM197 498h5v1h-5zM202 499h1v2h-1zM203 501h1v1h-1zM204 502h1v2h-1zM205 504h1v4h-1zM206 508h1v3h-1zM207 512h1v1h-1zM207 511h3v1h-3zM210 510h2v1h-2zM212 509h2v1h-2zM214 508h1v1h-1zM215 509h1v1h-1zM216 510h1v1h-1zM217 511h1v1h-1zM218 512h1v1h-1zM219 513h4v1h-4zM223 512h1v1h-1zM224 510h1v2h-1zM225 509h1v1h-1zM226 508h1v1h-1zM227 506h1v2h-1zM228 505h1v1h-1zM229 503h1v2h-1zM230 502h2v1h-2zM232 501h2v1h-2zM234 502h2v1h-2zM236 503h1v1h-1zM237 504h3v1h-3zM240 505h3v1h-3zM243 506h1v1h-1zM244 507h1v2h-1zM245 509h1v1h-1zM246 510h5v1h-5zM251 509h1v1h-1zM252 508h1v1h-1zM253 507h2v1h-2zM255 506h2v1h-2zM257 505h6v1h-6zM263 504h1v1h-1zM264 503h2v1h-2zM266 502h1v1h-1zM267 501h1v1h-1zM268 502h1v2h-1zM269 504h1v2h-1zM270 506h1v1h-1zM271 505h2v1h-2zM273 504h1v1h-1zM274 503h1v1h-1zM275 504h1v1h-1zM276 505h1v1h-1zM277 506h1v1h-1zM278 507h1v1h-1zM279 508h3v1h-3zM282 507h3v1h-3zM285 506h2v1h-2zM287 505h1v1h-1zM288 504h2v1h-2zM290 503h1v1h-1zM291 504h1v1h-1zM292 505h1v2h-1zM293 507h1v1h-1zM294 508h13v1h-13zM307 507h2v1h-2zM309 506h2v1h-2zM311 505h2v1h-2zM313 506h2v1h-2zM315 507h2v1h-2zM317 508h2v1h-2zM319 509h1v2h-1zM320 511h1v2h-1zM321 513h1v2h-1zM322 515h2v1h-2zM324 514h2v1h-2zM326 513h5v1h-5zM331 512h2v1h-2zM333 511h2v1h-2zM335 510h2v1h-2zM337 511h11v1h-11zM348 512h1v2h-1zM349 514h1v2h-1zM350 516h1v2h-1zM351 518h2v1h-2zM353 517h2v1h-2zM355 516h5v1h-5zM360 515h3v1h-3zM362 516h1v1h-1zM363 517h1v2h-1zM364 519h1v2h-1zM365 521h1v2h-1zM366 523h1v2h-1zM367 525h1v2h-1zM368 527h2v1h-2zM370 528h1v1h-1zM371 529h2v1h-2zM373 530h6v1h-6zM379 529h1v1h-1zM380 528h2v1h-2zM382 527h1v1h-1zM383 526h1v1h-1zM384 525h2v1h-2zM386 524h1v1h-1zM387 523h8v1h-8zM395 524h3v1h-3zM398 523h3v1h-3zM401 522h3v1h-3zM404 523h3v1h-3zM407 524h2v1h-2zM409 525h2v1h-2zM411 526h3v1h-3zM414 527h2v1h-2zM416 528h2v1h-2zM418 529h1v1h-1zM419 528h1v1h-1zM420 527h2v1h-2zM422 526h1v1h-1zM423 525h3v1h-3zM426 526h3v1h-3zM429 525h3v1h-3zM432 526h2v1h-2zM434 527h3v1h-3zM437 528h2v1h-2zM439 529h1v1h-1zM440 527h1v2h-1zM441 526h1v1h-1zM442 524h1v2h-1zM443 523h1v1h-1zM444 522h1v1h-1zM445 520h1v2h-1zM446 519h1v1h-1zM447 518h2v1h-2zM449 519h6v1h-6zM455 520h1v2h-1zM456 522h1v2h-1zM457 524h1v2h-1zM458 526h1v1h-1zM459 524h1v2h-1zM460 523h1v1h-1zM461 522h1v1h-1zM462 520h1v2h-1zM463 519h2v1h-2zM465 520h2v1h-2zM467 521h6v1h-6zM473 520h3v1h-3zM476 521h3v1h-3zM479 522h2v1h-2zM481 523h3v1h-3zM484 522h2v1h-2zM486 521h2v1h-2zM488 522h3v1h-3zM491 523h7v1h-7zM498 522h2v1h-2zM500 521h1v1h-1zM501 520h1v1h-1zM502 519h2v1h-2zM504 518h1v1h-1zM505 517h2v1h-2zM507 516h1v1h-1zM508 515h1v1h-1zM509 514h1v1h-1zM510 513h1v1h-1zM511 512h1v1h-1zM512 511h1v1h-1zM513 510h1v1h-1zM514 509h1v1h-1zM515 508h1v1h-1zM516 509h1v1h-1zM517 510h1v2h-1zM518 512h1v1h-1zM519 513h2v1h-2zM521 512h2v1h-2zM523 511h4v1h-4zM527 510h4v1h-4zM531 511h1v1h-1zM532 512h2v1h-2zM534 513h1v1h-1zM535 514h2v1h-2zM537 515h2v1h-2zM539 516h1v2h-1zM540 518h1v2h-1zM541 520h1v2h-1zM542 522h2v1h-2zM544 523h3v1h-3zM547 524h3v1h-3zM550 525h3v1h-3zM553 526h2v1h-2zM555 525h2v1h-2zM557 524h1v1h-1zM558 523h3v1h-3zM561 522h3v1h-3zM563 521h1v1h-1zM564 518h1v3h-1zM565 516h1v2h-1zM566 515h1v1h-1zM566 514h7v1h-7zM573 515h1v2h-1zM574 517h1v1h-1zM575 518h1v1h-1zM576 519h1v2h-1zM577 521h1v1h-1zM578 522h4v1h-4zM582 523h2v1h-2zM584 524h2v1h-2zM586 525h1v1h-1zM587 524h2v1h-2zM589 523h1v1h-1zM590 522h5v1h-5zM595 520h1v2h-1zM596 519h1v1h-1zM597 518h1v1h-1zM598 516h1v2h-1zM599 515h3v1h-3zM602 514h3v1h-3zM605 513h4v1h-4zM609 514h2v1h-2zM611 513h1v1h-1zM612 512h2v1h-2zM614 511h1v1h-1zM615 510h3v1h-3zM618 509h8v1h-8zM626 508h1v1h-1zM627 507h1v1h-1zM628 506h1v1h-1zM629 505h1v1h-1zM630 504h2v1h-2zM632 503h1v1h-1zM633 502h2v1h-2zM635 501h2v1h-2zM637 500h3v1h-3zM640 501h4v1h-4zM644 502h2v1h-2zM646 503h1v1h-1zM647 504h1v1h-1zM648 505h1v1h-1zM649 506h1v1h-1zM650 507h1v1h-1zM651 508h1v1h-1zM652 509h1v1h-1zM653 510h1v1h-1zM654 511h3v1h-3zM657 512h6v1h-6zM663 513h8v1h-8zM671 514h5v1h-5zM676 513h2v1h-2zM678 512h1v1h-1zM679 513h1v2h-1zM680 515h1v1h-1zM681 516h1v1h-1zM682 517h1v2h-1zM683 519h1v1h-1zM684 520h2v1h-2zM686 521h1v1h-1zM687 522h4v1h-4zM691 523h8v1h-8zM699 524h1v1h-1zM700 525h1v1h-1zM701 526h2v1h-2zM702 527h1v1h-1zM703 524h1v2h-1zM704 522h1v2h-1zM705 520h1v2h-1zM706 519h1v1h-1zM706 518h2v1h-2zM708 519h2v1h-2zM710 520h3v1h-3zM713 519h2v1h-2zM715 520h2v1h-2zM717 521h2v1h-2zM719 522h2v1h-2zM721 523h2v1h-2zM723 524h1v1h-1zM724 525h1v2h-1zM725 527h1v1h-1zM726 528h1v1h-1zM727 529h2v1h-2zM729 530h1v1h-1zM730 529h2v1h-2zM732 528h1v1h-1zM733 527h2v1h-2zM735 526h2v1h-2zM737 525h3v1h-3zM740 524h4v1h-4zM744 525h2v1h-2zM746 526h2v1h-2zM748 527h1v1h-1zM749 528h2v1h-2zM751 529h1v1h-1zM752 528h2v1h-2zM754 527h1v1h-1zM755 526h3v1h-3zM758 525h5v1h-5zM763 526h4v1h-4zM767 527h2v1h-2zM769 528h2v1h-2zM770 527h1v1h-1zM771 525h1v2h-1zM772 523h1v2h-1zM773 521h1v2h-1zM774 520h1v1h-1zM774 519h5v1h-5zM779 518h2v1h-2zM781 517h4v1h-4zM785 518h2v1h-2zM787 517h2v1h-2zM789 516h1v1h-1zM790 515h2v1h-2zM792 514h2v1h-2zM794 513h2v1h-2zM796 512h2v1h-2zM798 511h1v1h-1zM799 512h2v1h-2zM801 513h1v1h-1zM802 514h3v1h-3zM805 513h7v1h-7zM812 514h2v1h-2zM814 515h1v1h-1zM815 516h2v1h-2zM817 517h6v1h-6zM822 516h1v1h-1zM823 514h1v2h-1zM824 512h1v2h-1zM825 510h1v2h-1zM826 508h1v2h-1zM827 510h1v3h-1zM828 513h1v2h-1zM829 515h1v3h-1zM830 518h1v1h-1zM830 519h6v1h-6zM836 518h1v1h-1zM837 516h1v2h-1zM838 515h1v1h-1zM839 514h1v1h-1zM840 515h2v1h-2zM842 516h2v1h-2zM844 515h2v1h-2zM846 514h1v1h-1zM847 515h2v1h-2zM849 516h1v1h-1zM850 517h3v1h-3zM853 518h3v1h-3zM856 517h2v1h-2zM858 516h2v1h-2zM860 515h2v1h-2zM862 514h3v1h-3zM865 513h2v1h-2zM867 514h1v2h-1zM868 516h1v2h-1zM869 518h1v2h-1zM870 520h1v2h-1zM871 522h1v1h-1zM872 523h2v1h-2zM874 524h9v1h-9zM883 525h1v1h-1zM884 526h2v1h-2zM886 527h1v1h-1zM887 528h2v1h-2zM889 529h2v1h-2zM891 530h5v1h-5zM895 529h1v1h-1zM896 527h1v2h-1zM897 525h1v2h-1zM898 524h1v1h-1zM899 525h1v1h-1zM900 526h2v1h-2zM902 527h1v1h-1zM903 528h3v1h-3zM906 529h4v1h-4zM910 530h8v1h-8zM918 531h3v1h-3zM921 530h2v1h-2zM922 529h1v1h-1zM923 527h1v2h-1zM924 525h1v2h-1zM925 523h1v2h-1zM926 521h1v2h-1zM927 520h1v1h-1z" fill="#1e90ff" shape-rendering="crispEdges"/>
</g>
<g shape-rendering="crispEdges">
<rect x="1169" y="37" width="2" height="1" fill="#000"/>
<rect x="1169" y="70" width="2" height="1" fill="#000"/>
<rect x="1169" y="103" width="2" height="1" fill="#000"/>
<rect x="1169" y="136" width="2" height="1" fill="#000"/>
<rect x="1169" y="169" width="2" height="1" fill="#000"/>
<rect x="1169" y="202" width="2" height="1" fill="#000"/>
<rect x="1169" y="235" width="2" height="1" fill="#000"/>
<rect x="1169" y="268" width="2" height="1" fill="#000"/>
<rect x="1169" y="301" width="2" height="1" fill="#000"/>
<rect x="1169" y="334" width="2" height="1" fill="#000"/>
<rect x="1169" y="367" width="2" height="1" fill="#000"/>
<rect x="1169" y="400" width="2" height="1" fill="#000"/>
<rect x="1169" y="432" width="2" height="1" fill="#000"/>
<rect x="1169" y="406" width="1" height="1" fill="#000"/>
<rect x="1169" y="473" width="1" height="1" fill="#000"/>
<rect x="1169" y="477" width="1" height="1" fill="#000"/>
<rect x="1169" y="547" width="1" height="1" fill="#000"/>
<rect x="6" y="549" width="1" height="3" fill="#000"/>
<rect x="70" y="549" width="1" height="3" fill="#000"/>
<rect x="134" y="549" width="1" height="3" fill="#000"/>
<rect x="198" y="549" width="1" height="3" fill="#000"/>
<rect x="262" y="549" width="1" height="3" fill="#000"/>
<rect x="326" y="549" width="1" height="3" fill="#000"/>
<rect x="390" y="549" width="1" height="3" fill="#000"/>
<rect x="454" y="549" width="1" height="3" fill="#000"/>
<rect x="518" y="549" width="1" height="3" fill="#000"/>
<rect x="582" y="549" width="1" height="3" fill="#000"/>
<rect x="646" y="549" width="1" height="3" fill="#000"/>
<rect x="710" y="549" width="1" height="3" fill="#000"/>
<rect x="774" y="549" width="1" height="3" fill="#000"/>
<rect x="838" y="549" width="1" height="3" fill="#000"/>
<rect x="902" y="549" width="1" height="3" fill="#000"/>
</g>
<text x="1174.5" y="40.6" font-size="9.6" fill="#000" textLength="32" lengthAdjust="spacingAndGlyphs" stroke="#000">1.22890</text>
<text x="1174.5" y="73.6" font-size="9.6" fill="#000" textLength="32" lengthAdjust="spacingAndGlyphs" stroke="#000">1.21870</text>
<text x="1174.5" y="106.6" font-size="9.6" fill="#000" textLength="32" lengthAdjust="spacingAndGlyphs" stroke="#000">1.20850</text>
<text x="1174.5" y="139.6" font-size="9.6" fill="#000" textLength="32" lengthAdjust="spacingAndGlyphs" stroke="#000">1.19830</text>
<text x="1174.5" y="172.6" font-size="9.6" fill="#000" textLength="32" lengthAdjust="spacingAndGlyphs" stroke="#000">1.18810</text>
<text x="1174.5" y="205.6" font-size="9.6" fill="#000" textLength="32" lengthAdjust="spacingAndGlyphs" stroke="#000">1.17790</text>
<text x="1174.5" y="238.6" font-size="9.6" fill="#000" textLength="32" lengthAdjust="spacingAndGlyphs" stroke="#000">1.16770</text>
<text x="1174.5" y="271.6" font-size="9.6" fill="#000" textLength="32" lengthAdjust="spacingAndGlyphs" stroke="#000">1.15750</text>
<text x="1174.5" y="304.6" font-size="9.6" fill="#000" textLength="32" lengthAdjust="spacingAndGlyphs" stroke="#000">1.14730</text>
<text x="1174.5" y="337.6" font-size="9.6" fill="#000" textLength="32" lengthAdjust="spacingAndGlyphs" stroke="#000">1.13710</text>
<text x="1174.5" y="370.6" font-size="9.6" fill="#000" textLength="32" lengthAdjust="spacingAndGlyphs" stroke="#000">1.12690</text>
<text x="1174.5" y="403.6" font-size="9.6" fill="#000" textLength="32" lengthAdjust="spacingAndGlyphs" stroke="#000">1.11670</text>
<g shape-rendering="crispEdges">
<rect x="1170" y="156" width="38" height="11" fill="#ff0000"/>
<rect x="1170" y="221" width="38" height="11" fill="#ff0000"/>
<rect x="1170" y="276" width="38" height="11" fill="#ff0000"/>
<rect x="1170" y="318" width="38" height="11" fill="#00ff00"/>
<rect x="1170" y="347" width="38" height="11" fill="#000000"/>
<rect x="1170" y="382" width="38" height="11" fill="#0000ff"/>
</g>
<text x="1174.5" y="165" font-size="9.6" fill="#fff" textLength="32" lengthAdjust="spacingAndGlyphs" stroke="#fff">1.19010</text>
<text x="1174.5" y="230" font-size="9.6" fill="#fff" textLength="32" lengthAdjust="spacingAndGlyphs" stroke="#fff">1.17012</text>
<text x="1174.5" y="285" font-size="9.6" fill="#fff" textLength="32" lengthAdjust="spacingAndGlyphs" stroke="#fff">1.15299</text>
<text x="1174.5" y="327" font-size="9.6" fill="#fff" textLength="32" lengthAdjust="spacingAndGlyphs" stroke="#fff">1.14017</text>
<text x="1174.5" y="356" font-size="9.6" fill="#fff" textLength="32" lengthAdjust="spacingAndGlyphs" stroke="#fff">1.13135</text>
<text x="1174.5" y="391" font-size="9.6" fill="#fff" textLength="32" lengthAdjust="spacingAndGlyphs" stroke="#fff">1.12042</text>
<text x="1172.5" y="415.6" font-size="9.6" fill="#000" textLength="37" lengthAdjust="spacingAndGlyphs" stroke="#000">0.006611</text>
<text x="1172.5" y="435.6" font-size="9.6" fill="#000" textLength="17" lengthAdjust="spacingAndGlyphs" stroke="#000">0.00</text>
<text x="1172" y="470.6" font-size="9.6" fill="#000" textLength="36.5" lengthAdjust="spacingAndGlyphs" stroke="#000">-0.01059</text>
<text x="1172.5" y="486.6" font-size="9.6" fill="#000" textLength="14.5" lengthAdjust="spacingAndGlyphs" stroke="#000">100</text>
<text x="1171.5" y="501.9" font-size="9.6" fill="#000" textLength="9.5" lengthAdjust="spacingAndGlyphs" stroke="#000">70</text>
<text x="1171.5" y="529.4" font-size="9.6" fill="#000" textLength="9.5" lengthAdjust="spacingAndGlyphs" stroke="#000">30</text>
<text x="1172.5" y="544.8" font-size="9.6" fill="#000" stroke="#000">0</text>
<text x="5" y="561" font-size="9.6" fill="#000" textLength="46.5" lengthAdjust="spacingAndGlyphs" stroke="#000">2 Mar 2021</text>
<text x="69" y="561" font-size="9.6" fill="#000" textLength="51" lengthAdjust="spacingAndGlyphs" stroke="#000">21 Mar 2021</text>
<text x="133" y="561" font-size="9.6" fill="#000" textLength="46.5" lengthAdjust="spacingAndGlyphs" stroke="#000">9 Apr 2021</text>
<text x="197" y="561" font-size="9.6" fill="#000" textLength="51" lengthAdjust="spacingAndGlyphs" stroke="#000">28 Apr 2021</text>
<text x="261" y="561" font-size="9.6" fill="#000" textLength="51" lengthAdjust="spacingAndGlyphs" stroke="#000">17 May 2021</text>
<text x="325" y="561" font-size="9.6" fill="#000" textLength="46.5" lengthAdjust="spacingAndGlyphs" stroke="#000">4 Jun 2021</text>
<text x="389" y="561" font-size="9.6" fill="#000" textLength="51" lengthAdjust="spacingAndGlyphs" stroke="#000">23 Jun 2021</text>
<text x="453" y="561" font-size="9.6" fill="#000" textLength="51" lengthAdjust="spacingAndGlyphs" stroke="#000">12 Jul 2021</text>
<text x="517" y="561" font-size="9.6" fill="#000" textLength="51" lengthAdjust="spacingAndGlyphs" stroke="#000">30 Jul 2021</text>
<text x="581" y="561" font-size="9.6" fill="#000" textLength="51" lengthAdjust="spacingAndGlyphs" stroke="#000">18 Aug 2021</text>
<text x="645" y="561" font-size="9.6" fill="#000" textLength="46.5" lengthAdjust="spacingAndGlyphs" stroke="#000">6 Sep 2021</text>
<text x="709" y="561" font-size="9.6" fill="#000" textLength="51" lengthAdjust="spacingAndGlyphs" stroke="#000">24 Sep 2021</text>
<text x="773" y="561" font-size="9.6" fill="#000" textLength="51" lengthAdjust="spacingAndGlyphs" stroke="#000">13 Oct 2021</text>
<text x="837" y="561" font-size="9.6" fill="#000" textLength="46.5" lengthAdjust="spacingAndGlyphs" stroke="#000">1 Nov 2021</text>
<text x="901" y="561" font-size="9.6" fill="#000" textLength="51" lengthAdjust="spacingAndGlyphs" stroke="#000">19 Nov 2021</text>
<text x="10.5" y="417.7" font-size="9.6" fill="#000" textLength="153" lengthAdjust="spacingAndGlyphs" stroke="#000">MACD(12,26,9) -0.009038 -0.008447</text>
<text x="10.5" y="488.7" font-size="9.6" fill="#000" textLength="67" lengthAdjust="spacingAndGlyphs" stroke="#000">RSI(14) 40.3229</text>
<path d="M9.3 36.5 L15.7 36.5 L12.5 32.3 Z" fill="#000"/>
<text x="21" y="36.9" font-size="9.6" fill="#000" textLength="66.5" lengthAdjust="spacingAndGlyphs" stroke="#000">EURUSD-,Daily</text>
<text x="94" y="36.9" font-size="9.6" fill="#000" textLength="141" lengthAdjust="spacingAndGlyphs" stroke="#000">1.12076 1.13209 1.12058 1.13135</text>
<g shape-rendering="crispEdges">
<rect x="9" y="45" width="221" height="59" fill="#fff"/>
<rect x="9" y="45" width="52" height="25" fill="url(#gs)"/>
<rect x="176" y="45" width="52" height="25" fill="url(#gs)"/>
<rect x="9" y="69" width="109" height="33" fill="url(#gp)"/>
<rect x="120" y="69" width="108" height="33" fill="url(#gp)"/>
<rect x="13" y="69" width="44" height="1" fill="#7c7cec"/>
<rect x="180" y="69" width="44" height="1" fill="#7c7cec"/>
<rect x="63" y="45" width="111" height="21" fill="#b0b0b0"/>
<rect x="64" y="46" width="109" height="19" fill="#fff"/>
<rect x="65" y="47" width="18" height="17" fill="url(#gb)"/>
<rect x="154" y="47" width="18" height="17" fill="url(#gb)"/>
<rect x="84" y="46" width="1" height="19" fill="#c8c8c8"/>
<rect x="152" y="46" width="1" height="19" fill="#c8c8c8"/>
</g>
<path d="M70.8 54.5 L76.2 54.5 L73.5 57.8 Z" fill="#4a5cc0"/>
<path d="M160 57.3 L165.4 57.3 L162.7 54 Z" fill="#4a5cc0"/>
<text x="21.5" y="60.7" font-size="12.5" fill="#fff" textLength="25.5" lengthAdjust="spacingAndGlyphs">SELL</text>
<text x="189.5" y="60.7" font-size="12.5" fill="#fff" textLength="23" lengthAdjust="spacingAndGlyphs">BUY</text>
<text x="148.5" y="59.8" font-size="12.5" fill="#000" text-anchor="end" textLength="23" lengthAdjust="spacingAndGlyphs">3.00</text>
<text x="29.5" y="97" font-size="12" fill="#fff" textLength="23" lengthAdjust="spacingAndGlyphs" font-weight="bold">1.13</text>
<text x="56.8" y="97.3" font-size="34" fill="#fff" textLength="35.5" lengthAdjust="spacingAndGlyphs">13</text>
<text x="97" y="80.6" font-size="10.5" fill="#fff" font-weight="bold" stroke="#fff">5</text>
<text x="139.5" y="97" font-size="12" fill="#fff" textLength="23" lengthAdjust="spacingAndGlyphs" font-weight="bold">1.13</text>
<text x="166.8" y="97.3" font-size="34" fill="#fff" textLength="35.5" lengthAdjust="spacingAndGlyphs">16</text>
<text x="207.7" y="80.5" font-size="10.5" fill="#fff" font-weight="bold" stroke="#fff">7</text>
<g shape-rendering="crispEdges">
<rect x="0" y="571" width="1208" height="1" fill="#000"/>
<rect x="2" y="572" width="1" height="18" fill="#696969"/>
<rect x="0" y="590" width="3" height="1" fill="#696969"/>
<rect x="108" y="571" width="106" height="18" fill="#fff"/>
<rect x="107" y="571" width="1" height="19" fill="#000"/>
<rect x="107" y="589" width="108" height="1" fill="#000"/>
<rect x="214" y="571" width="1" height="19" fill="#000"/>
<rect x="0" y="591" width="1208" height="1" fill="#fafafa"/>
<rect x="323" y="575" width="1" height="12" fill="#808080"/>
<rect x="419" y="575" width="1" height="12" fill="#808080"/>
<rect x="527" y="575" width="1" height="12" fill="#808080"/>
<rect x="639" y="575" width="1" height="12" fill="#808080"/>
<rect x="747" y="575" width="1" height="12" fill="#808080"/>
<rect x="827" y="575" width="1" height="12" fill="#808080"/>
<rect x="927" y="575" width="1" height="12" fill="#808080"/>
<rect x="1023" y="575" width="1" height="12" fill="#808080"/>
</g>
<text x="18.5" y="586" font-size="13" fill="#808080" textLength="77.5" lengthAdjust="spacingAndGlyphs">USDX,Weekly</text>
<text x="118" y="586" font-size="13" fill="#000" textLength="85.5" lengthAdjust="spacingAndGlyphs">EURUSD-,Daily</text>
<text x="225" y="586" font-size="13" fill="#707070" textLength="86.8" lengthAdjust="spacingAndGlyphs">AUDUSD-,Daily</text>
<text x="335.5" y="586" font-size="13" fill="#707070" textLength="71.5" lengthAdjust="spacingAndGlyphs">USDCHF-,H4</text>
<text x="430.5" y="586" font-size="13" fill="#707070" textLength="85.2" lengthAdjust="spacingAndGlyphs">USDCAD-,Daily</text>
<text x="539" y="586" font-size="13" fill="#707070" textLength="87.5" lengthAdjust="spacingAndGlyphs">USDCNH-,Daily</text>
<text x="650" y="586" font-size="13" fill="#707070" textLength="85.8" lengthAdjust="spacingAndGlyphs">XAUUSD-,Daily</text>
<text x="758.75" y="586" font-size="13" fill="#707070" textLength="55.5" lengthAdjust="spacingAndGlyphs">UKOil-,H1</text>
<text x="838.25" y="586" font-size="13" fill="#707070" textLength="77.5" lengthAdjust="spacingAndGlyphs">DJ30-,Weekly</text>
<text x="938.25" y="586" font-size="13" fill="#707070" textLength="73.5" lengthAdjust="spacingAndGlyphs">UK100-,Daily</text>
<path d="M1187.5 576.5 L1187.5 583.5 L1183.8 580 Z" fill="#a0a0a0"/>
<path d="M1203 576.5 L1203 583.5 L1206.7 580 Z" fill="#909090"/>
<text x="-2" y="13" font-size="9.5" fill="#444" textLength="9" lengthAdjust="spacingAndGlyphs">15</text>
<text x="17.5" y="13" font-size="9.5" fill="#444" textLength="18.0" lengthAdjust="spacingAndGlyphs">M30</text>
<text x="48.5" y="13" font-size="9.5" fill="#444" textLength="11.5" lengthAdjust="spacingAndGlyphs">H1</text>
<text x="75.5" y="13" font-size="9.5" fill="#444" textLength="12.5" lengthAdjust="spacingAndGlyphs">H4</text>
<text x="104.5" y="13" font-size="9.5" fill="#444" textLength="11.5" lengthAdjust="spacingAndGlyphs">D1</text>
<text x="132" y="13" font-size="9.5" fill="#444" textLength="14" lengthAdjust="spacingAndGlyphs">W1</text>
<text x="158.75" y="13" font-size="9.5" fill="#444" textLength="14.2" lengthAdjust="spacingAndGlyphs">MN</text>
</svg></body></html>
